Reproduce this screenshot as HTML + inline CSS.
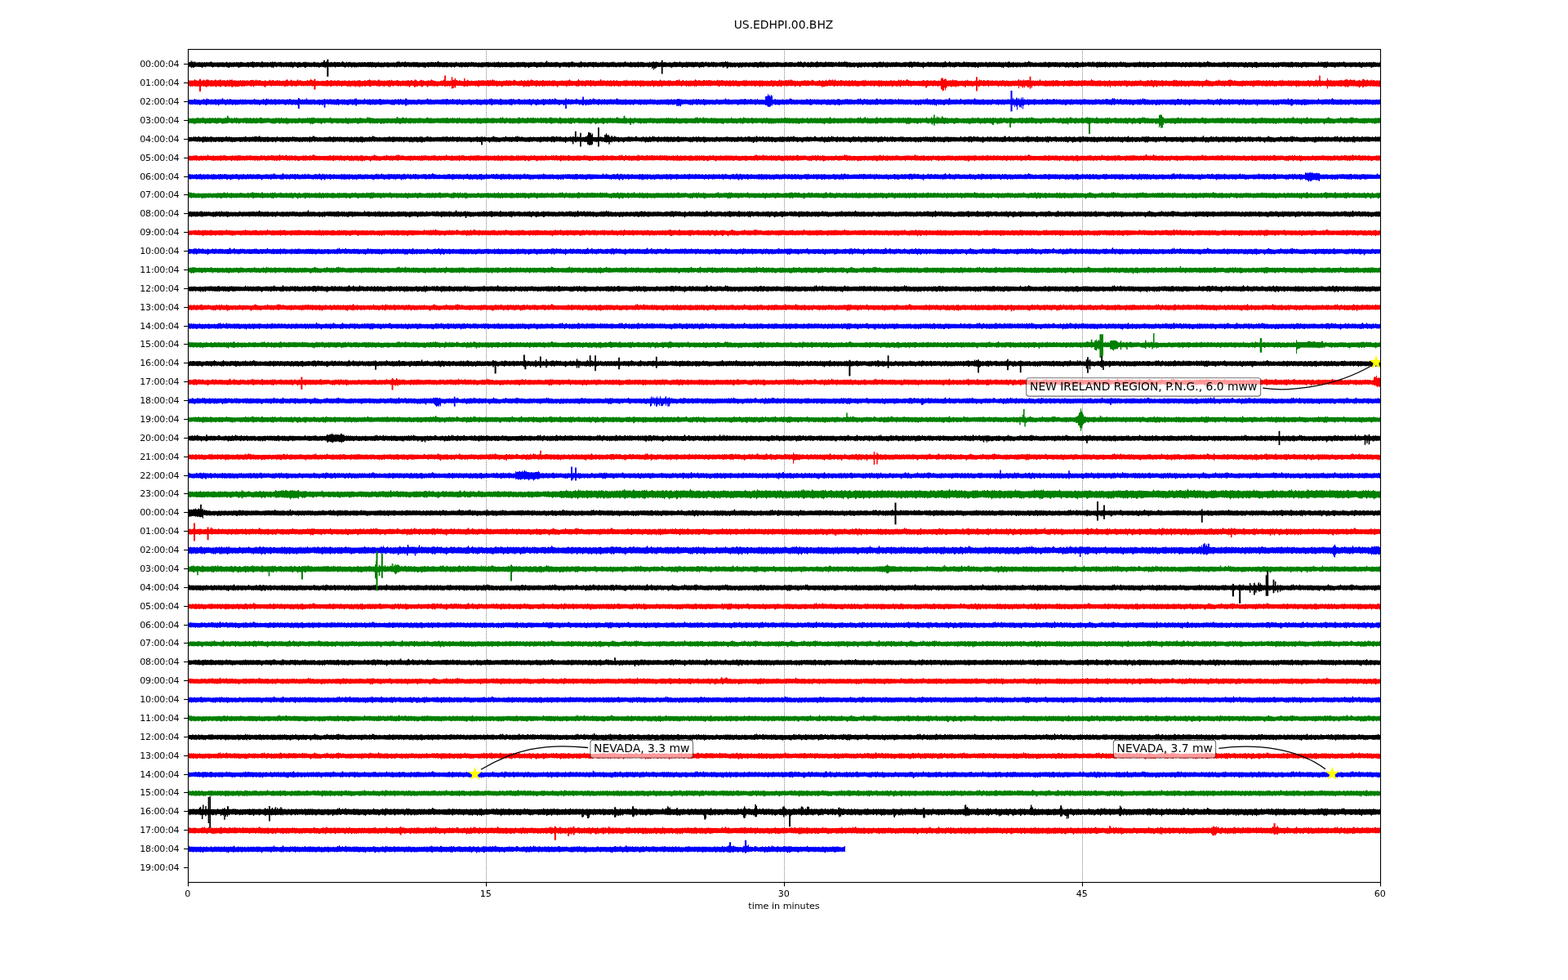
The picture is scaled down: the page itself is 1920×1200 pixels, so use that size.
<!DOCTYPE html>
<html><head><meta charset="utf-8"><title>US.EDHPI.00.BHZ</title>
<style>html,body{margin:0;padding:0;background:#fff;overflow:hidden}svg{display:block}</style>
</head><body>
<svg width="1920" height="1200" viewBox="0 0 1920 1200">
<defs><path id="s0" d="M0 -3.6h1v.7h1v.3h1h1v-.2h1v.3h1v-.3h1v-.5h1v.5h1v-.7h1v.6h1v.2h1v-.6h1v-.3h1v.7h1v.1h1v.3h1v-.4h1v-.3h1v-.1h1v.4h1v-.7h1v.7h1v-.1h1v-.1h1v.5h1v-.3h1v-.3h1v-.4h1v.7h1v-.2h1v.5h1v.1h1v-.2h1v-.2h1v.1h1v.2h1v-.5h1v.4h1v-.5h1v.5h1v-.3h1h1v.2h1v.3h1v-.3h1v-.3h1v-.7h1v.8h1v.3h1v-.6h1v.4h1h1v.1h1v.3h1v-.2h1v.3h1v-.3h1v.3h1v-.2h1v-.1h1v.2h1v-.1h1v-.2h1v.2h1v-.2h1v.2h1v-.4h1v.1h1v-.1h1v-.8h1v.6h1v.4h1v.3v5.2h-1v.5h-1v-.3h-1v.1h-1v-.3h-1h-1v.5h-1v-.4h-1v.6h-1v-.6h-1v-.1h-1v-.3h-1v.1h-1h-1v.3h-1v.6h-1v-.6h-1v.4h-1v.4h-1v-.5h-1h-1v-.5h-1h-1v.2h-1h-1v-.3h-1v.2h-1v-.1h-1v-.1h-1v.3h-1v.5h-1h-1v-.2h-1v-.4h-1v.6h-1v-.4h-1v-.4h-1v.1h-1v.5h-1v.3h-1v-.6h-1v.2h-1v-.3h-1v.2h-1v.7h-1v-.7h-1h-1v-.1h-1v.3h-1v-.3h-1v.6h-1v-.6h-1v.2h-1v.1h-1v1h-1v-1h-1v-.4h-1h-1v.5h-1v-.5h-1h-1v.3h-1v-.4h-1v.1h-1v-.1h-1v-.2h-1v-.2h-1v.2h-1v.2h-1v.1h-1h-1v.2h-1v-.1h-1v.5z"/><path id="s1" d="M0 -2.8h1v.1h1v.3h1v-.3h1v-.3h1v.4h1v-.4h1v.3h1v-.4h1v.5h1v.3h1h1v-.2h1v-.1h1h1v-.3h1v.4h1h1v-.1h1v-.1h1h1v-.5h1v.5h1v.1h1v-.5h1v.2h1v.1h1v-.5h1v.4h1v-.4h1v.6h1v-.2h1h1h1v.1h1v.1h1v-.6h1v-.1h1h1v.6h1v.3h1v-.3h1v-.3h1v.3h1v-.2h1v-.2h1v.5h1v.2h1v-.3h1v.3h1v-.3h1v-.3h1v.2h1v-.4h1v.5h1v-.4h1v.5h1v-.3h1v.2h1h1v.1h1v-.1h1v-.1h1v.2h1v.1h1v-.1h1v.3h1v-.1h1v.1h1v-.6h1v-.8h1v.8h1v.5h1v-.1v5.1h-1h-1v-.1h-1v.4h-1v-.2h-1v-.1h-1h-1v.2h-1v-.2h-1v.3h-1v-.2h-1h-1h-1h-1v.3h-1v.2h-1v-.2h-1v.6h-1v-.6h-1v-.4h-1v.1h-1v.3h-1v.7h-1h-1v-.6h-1v-.2h-1v.4h-1v-.1h-1v-.4h-1v.7h-1v-.7h-1v-.2h-1v.1h-1v.3h-1v.8h-1v-.8h-1v.1h-1v.3h-1v-.5h-1v.6h-1v-.5h-1v-.3h-1v.5h-1v-.5h-1v.1h-1v-.2h-1v.3h-1v-.2h-1v-.2h-1v-.2h-1v.6h-1v.7h-1v-.7h-1v.3h-1v.6h-1v-.8h-1h-1v.9h-1v-.9h-1v.3h-1v-.5h-1v-.1h-1v.1h-1v.6h-1v-.6h-1v-.2h-1v.3h-1v.3h-1v-.3h-1h-1v.2h-1v-.4h-1v.6h-1v.9z"/><path id="s2" d="M0 -3.4h1v.6h1v-.2h1v.3h1v.1h1v-.5h1h1v.5h1v-.1h1v-.6h1v.3h1v.5h1v-.4h1v-.5h1v.6h1v.2h1v-.4h1v-.2h1v.6h1v.2h1v-.3h1v.3h1v-.2h1v.2h1v-.2h1v-.5h1h1v-.1h1v.3h1v-.8h1v.8h1h1v.4h1v-.5h1v.5h1v-.2h1v-.6h1v.6h1v-.3h1v.2h1v-.3h1v.4h1v-.6h1v.6h1v.1h1v-.5h1v.1h1h1v.2h1v-.5h1v.6h1v-.2h1v.4h1v-.4h1v.4h1v-.5h1v.5h1v-.1h1v.1h1v-.3h1v-.5h1v.1h1v.6h1v-.4h1v.1h1v-.1h1v.3h1h1v.1h1v-.4h1v-.9h1v.9h1v-.1h1v.3v6.6h-1v-.8h-1v-.2h-1v.5h-1v-.2h-1v.4h-1v-.7h-1v-.2h-1v.4h-1h-1v.8h-1v-.8h-1v-.4h-1v.1h-1v.5h-1v-.5h-1v.6h-1v-.5h-1v.5h-1v-.5h-1v-.2h-1v.4h-1v-.1h-1v.7h-1v-.7h-1v.2h-1v.8h-1v-.8h-1v-.3h-1v-.2h-1h-1v.2h-1v.7h-1v-.7h-1v-.4h-1v.3h-1v.4h-1v-.4h-1v-.1h-1h-1v.3h-1v-.3h-1v.4h-1v-.1h-1v.4h-1v-.3h-1v-.1h-1v-.2h-1v-.2h-1v-.1h-1v.5h-1v.6h-1v-.6h-1v.7h-1v-.7h-1v.1h-1v-.4h-1v.2h-1v.5h-1v-.5h-1h-1h-1v.6h-1v-.5h-1v.4h-1v-.6h-1v.2h-1v-.2h-1v.5h-1v-.5h-1v-.3h-1v.2h-1v.4h-1v-.2z"/><path id="s3" d="M0 -3.2h1v.2h1v.4h1v-.3h1v-.6h1v.3h1v-1h1v1h1v-.1h1v.6h1v-.5h1v.1h1v.1h1v-.2h1v.3h1v.3h1v-.4h1v-.9h1v.2h1v.8h1h1v.1h1h1v.1h1v-.4h1v.3h1v.3h1v-.3h1v-.5h1v.4h1v-.7h1v.3h1v.4h1v-.8h1v.6h1v.5h1h1v-.2h1v-.1h1v-.2h1v-.4h1v.3h1v.5h1h1v.2h1v-.2h1h1v-.6h1v.6h1v-.1h1v.2h1v-.5h1v.2h1v-.7h1v.6h1v.4h1v-.2h1v-.6h1v.2h1v.5h1v.1h1v-.2h1h1v-.7h1v.7h1v.4h1v.1h1v-.3h1v-.5h1v.2h1v-.7h1v.7h1v-.3h1v.2v5.8h-1v.8h-1v.3h-1v-.9h-1v-.3h-1v.1h-1v-.2h-1v.6h-1h-1v-.2h-1v.3h-1v.8h-1v-1h-1v-.5h-1v-.3h-1v.2h-1v.5h-1v1h-1v-1h-1v.1h-1v-.1h-1v-.3h-1v.4h-1v-.5h-1v.1h-1v.4h-1v-.5h-1v.1h-1v.5h-1v-.5h-1h-1v.6h-1v-.6h-1v-.1h-1v-.2h-1h-1v.2h-1v.6h-1v-.5h-1v-.3h-1v.7h-1v.9h-1v-.9h-1v.4h-1v-.6h-1v-.2h-1v-.1h-1v.3h-1v.4h-1v-.6h-1v.3h-1v-.4h-1v.5h-1v-.2h-1v.8h-1v-.7h-1h-1v.1h-1v-.4h-1v-.3h-1v.4h-1v-.2h-1v.5h-1v-.5h-1v.5h-1v.6h-1v-.2h-1v-.7h-1h-1v-.3h-1v.2h-1v.6h-1v-.1h-1v-.5z"/><path id="s4" d="M0 -2.6h1v-.5h1v-.2h1v.6h1v.1h1h1v-.3h1v-.3h1v.3h1v-.3h1v.4h1v.3h1h1v-.2h1v.3h1v-.3h1v-.2h1v-.7h1v.2h1v.3h1v-1h1v1h1v.6h1v-.1h1v-.5h1v-.5h1v.7h1v.4h1v-.2h1v-.6h1v.6h1v.2h1v-.4h1h1v.1h1v-.3h1v.5h1h1v-.4h1v-.1h1v-1h1v.6h1v.7h1v-.1h1v-.3h1v-.2h1v.5h1v.1h1v.1h1v-.1h1v-.6h1v-.2h1v.6h1v.2h1v-.6h1v.6h1v-.7h1v.3h1v-.2h1v.5h1v-.3h1v.5h1h1v-.6h1v.6h1h1v-.3h1v-.8h1v.8h1h1v-.3h1v.5h1v-.6h1v.6v5.4h-1v-.1h-1v.3h-1v-.2h-1v.1h-1v.2h-1v-.3h-1v-.2h-1v.3h-1v-.3h-1h-1v.2h-1h-1v.4h-1v-.2h-1v.1h-1v-.2h-1v.1h-1v-.2h-1v.1h-1v-.1h-1h-1v.5h-1v-.3h-1v.1h-1v.1h-1v-.4h-1v.1h-1v-.2h-1h-1v.3h-1v.6h-1v-.5h-1v.7h-1v-.7h-1v-.3h-1v.4h-1v-.3h-1v.5h-1v-.3h-1v.6h-1v-.6h-1v-.1h-1v.6h-1v-.6h-1v-.2h-1v-.2h-1v.1h-1v.3h-1v.7h-1v-.6h-1v-.4h-1v.3h-1v-.3h-1v.4h-1v-.1h-1v-.1h-1v-.3h-1v.1h-1v.4h-1v-.1h-1v-.2h-1h-1v.1h-1v.5h-1v-.5h-1v.1h-1h-1v-.3h-1v.2h-1v-.2h-1v.4h-1v-.1h-1v.5z"/><path id="s5" d="M0 -3h1v.4h1v-.5h1v.5h1h1h1v-.4h1v.2h1v-.6h1v.4h1v-.6h1v.7h1v.3h1v.3h1v-.2h1v-.4h1v-.1h1v.4h1v-.3h1v.1h1v.2h1v-.4h1v.4h1v-.5h1v-1h1v1h1v.4h1v-.2h1v.2h1v.2h1v-.4h1v-.4h1v.5h1v.2h1v-.2h1v.2h1v-.5h1v.5h1v-.4h1v.1h1v-.7h1v.8h1v.1h1v-.6h1v.1h1v-.1h1v.3h1v.4h1h1v.1h1v.1h1v-.3h1v.1h1v-.1h1v-.7h1v.7h1h1h1v-.6h1v.6h1v-.3h1v-.2h1v-.1h1v.1h1h1v.5h1h1h1v-.1h1v.3h1v-.1h1v-.4h1v-.1h1v.4v5.5h-1v.2h-1v-.3h-1v.6h-1v-.6h-1h-1v.2h-1h-1v-.2h-1v.4h-1v-.3h-1v.3h-1v.1h-1v-.2h-1v-.1h-1v.2h-1v-.5h-1v.2h-1v.1h-1v.7h-1v-.7h-1v-.3h-1v-.1h-1v.1h-1v.3h-1v-.1h-1v.6h-1v-.6h-1v-.2h-1v.4h-1v-.3h-1v.2h-1v.7h-1v-.7h-1v-.1h-1v.3h-1v-.1h-1h-1v-.3h-1v.5h-1v-.2h-1v.4h-1v-.5h-1v.2h-1v-.4h-1v-.2h-1h-1v-.1h-1v.1h-1v.2h-1v.4h-1v-.5h-1v-.1h-1v.1h-1v.4h-1v.1h-1v-.5h-1v.1h-1v.4h-1h-1v-.1h-1v-.3h-1v.4h-1v-.4h-1v.2h-1v-.1h-1v-.2h-1v.5h-1v-.1h-1h-1v.2h-1v-.4h-1v-.1h-1v.3z"/><path id="s6" d="M0 -2.7h1v.2h1v.1h1v-.2h1v.2h1h1v-.3h1v-.1h1v-.5h1v-.8h1v.9h1v.2h1v.1h1v.3h1v.2h1v.1h1v.1h1h1v-.1h1h1v-.3h1v-.4h1v.4h1v-.5h1v-.8h1v.9h1v.1h1v.2h1v.1h1v-.5h1v.4h1v.1h1v-.5h1v.5h1h1v-.4h1v-.7h1v.3h1v-.8h1v1h1v-.3h1v.7h1v.1h1v-.5h1v.1h1v.4h1v.1h1v.2h1h1v-.1h1h1v-.2h1h1v-.2h1v-.2h1v.5h1h1v-.1h1v-.4h1v.4h1v.1h1v.1h1v-.4h1v.3h1v-.4h1v.4h1v-.2h1v-.5h1v.6h1v-.3h1v-.1h1v-.1h1v.2h1v.4v5.3h-1v-.2h-1v.4h-1v-.3h-1v.5h-1v-.1h-1v.8h-1v-.8h-1v-.4h-1v.5h-1v-.3h-1v-.2h-1v-.2h-1v.3h-1v-.3h-1v.3h-1v.4h-1v-.5h-1v.3h-1v.5h-1v-.4h-1h-1v-.2h-1v.2h-1h-1v-.2h-1h-1v-.3h-1h-1h-1v.1h-1v.1h-1v-.3h-1v.3h-1v.6h-1v-.1h-1v-.5h-1v.1h-1v-.3h-1v.1h-1v.2h-1v.6h-1v-.6h-1v.1h-1v.2h-1v-.4h-1v-.2h-1v-.1h-1v.2h-1h-1v.4h-1v-.4h-1v-.1h-1v.1h-1v-.1h-1v.5h-1v.5h-1v-.4h-1h-1v-.3h-1v.7h-1v-.7h-1v.3h-1v-.3h-1h-1v.1h-1v-.2h-1v.4h-1v1h-1v-1h-1v-.5h-1v-.2h-1h-1v.2z"/><path id="s7" d="M0 -3.2h1v.4h1v-.6h1v.6h1v.2h1v-.4h1v.4h1v.1h1v-.4h1v.2h1v-.6h1v.6h1v.1h1v-.5h1v.2h1v-.8h1v.8h1v.3h1v-.1h1v-.6h1v.6h1v.1h1v-.4h1v.2h1v-.3h1v.1h1v.3h1v.2h1v-.1h1v-.5h1v.4h1v-.6h1v.3h1v.1h1v.3h1v.2h1v-.2h1v-.6h1v.4h1v-.5h1v.2h1v.5h1v-.6h1v.6h1v-.5h1v-.3h1v.6h1v-.4h1v.5h1h1v.1h1v.1h1v-.4h1v.3h1v-.4h1v-.2h1v.5h1h1v-.4h1v-.4h1v.7h1v-.1h1v.4h1v-.5h1v.4h1v-.2h1h1v-.1h1v-.4h1v.6h1h1v.2h1v-.5h1v.4v5.4h-1v.3h-1v-.1h-1v-.3h-1v.4h-1v-.3h-1v.5h-1v-.5h-1h-1v.4h-1v.8h-1v-.9h-1v-.3h-1h-1v-.3h-1h-1v.3h-1h-1v.2h-1v.1h-1v.9h-1v-.7h-1v-.6h-1v.1h-1v.7h-1v-.1h-1v-.6h-1v-.1h-1v.2h-1v-.2h-1v.5h-1v-.4h-1v.5h-1v-.4h-1v.6h-1v-.6h-1v-.2h-1v.4h-1v-.1h-1v.2h-1v-.1h-1v.1h-1v.3h-1v-.6h-1v.1h-1v-.2h-1h-1h-1v.6h-1v-.6h-1v.1h-1v-.1h-1v.6h-1v-.3h-1v-.2h-1v.7h-1v-.6h-1v.1h-1h-1v-.2h-1h-1v.2h-1v.2h-1v-.6h-1v.2h-1v-.3h-1v.3h-1v-.3h-1v.2h-1v.4h-1v.1h-1v-.6h-1v-.1h-1v.4z"/><path id="s8" d="M0 -3h1v.2h1v-.4h1v-.2h1v.5h1v-.1h1v.4h1v-.3h1v.2h1v-.1h1v.1h1v-.1h1v.3h1v-.1h1v.2h1v-.3h1v-.6h1v.1h1v.5h1v-.1h1v-.5h1v.5h1v.2h1v.1h1v-.2h1v-.6h1v.3h1v.2h1v-.3h1v-.5h1v.3h1h1v.6h1v-.2h1v-.1h1v.3h1v-.6h1v.6h1v-.6h1v-1.1h1v1.1h1v.6h1v-.5h1v-.1h1v.5h1h1v-.6h1v-.3h1v.7h1v.3h1v-.1h1v-.6h1v.6h1v-.3h1v-.2h1v.5h1v.2h1v-.3h1v-.3h1v.5h1h1v.2h1v.1h1v-.2h1v.2h1v-.3h1v.1h1v-.2h1v-.5h1v.5h1v-.3h1v-.3h1v.6h1v-.5v6.3h-1h-1v.3h-1v-.4h-1v.3h-1v-.2h-1v-.5h-1h-1v.5h-1v.2h-1v.5h-1v-.4h-1v-.6h-1v.1h-1v.7h-1v-.7h-1v-.3h-1v.5h-1v-.2h-1v-.2h-1h-1v.5h-1v-.3h-1v.2h-1v.2h-1v-.6h-1v-.2h-1v.2h-1v.2h-1v-.4h-1v-.1h-1v.2h-1v.3h-1v.7h-1v-.7h-1h-1v.5h-1v.2h-1v-.7h-1v.3h-1h-1v-.5h-1v.4h-1v-.2h-1v-.4h-1v.1h-1v.4h-1v-.3h-1v.3h-1h-1v.3h-1v-.3h-1v-.4h-1v-.2h-1v.3h-1h-1v.4h-1v-.2h-1v.4h-1v-.4h-1v.6h-1v-.7h-1v-.1h-1v.6h-1v-.2h-1v-.4h-1v.3h-1v-.4h-1v.2h-1v.3h-1v-.5h-1v-.1h-1v.2h-1v.5z"/><path id="s9" d="M0 -2.7h1v-.1h1h1v.3h1v-.2h1h1v.2h1v-.4h1v-.8h1v.8h1h1v.3h1h1v-.2h1v.3h1v.2h1v-.2h1v-.3h1h1v-.7h1v.6h1v.3h1v-.5h1v-.9h1v.9h1v-.3h1v.6h1v.1h1v-.3h1v-.1h1v.3h1v.2h1v-.4h1v-.4h1v.2h1v.4h1h1v-.3h1v.2h1v-.3h1v.5h1v.1h1v-.5h1v.3h1v-.3h1v.3h1v.3h1v-.2h1v-.6h1v.6h1v-.1h1v-.7h1v.4h1v.1h1v.4h1h1v-.4h1v.2h1h1v.2h1v.2h1v-.3h1v.1h1h1v-.5h1v.5h1h1v-.5h1v.5h1v-.2h1v-.4h1v.4h1v.3h1v5.1h-1v.2h-1v-.2h-1v.3h-1v-.1h-1v-.2h-1v.5h-1v-.3h-1v-.3h-1v.2h-1v.5h-1v-.4h-1v.6h-1v-.6h-1v.7h-1v-.7h-1v-.1h-1v.3h-1v.6h-1v-.7h-1v-.3h-1v.1h-1v.6h-1v-.6h-1v-.1h-1v.4h-1v.5h-1v-.5h-1v-.4h-1v-.1h-1v-.1h-1v.3h-1v-.2h-1v.4h-1v-.1h-1h-1v-.3h-1v.4h-1v.7h-1v-.7h-1v-.3h-1h-1v.4h-1v-.3h-1v.5h-1v-.4h-1v-.3h-1v.1h-1v.2h-1v.2h-1v.9h-1v-.9h-1v-.3h-1v.4h-1v-.5h-1v-.1h-1v.4h-1v.4h-1v.2h-1v-.7h-1h-1v.3h-1v-.4h-1v.3h-1v-.2h-1v-.3h-1v.1h-1v.4h-1v-.3h-1v.5h-1v-.5h-1v-.2h-1h-1v.3z"/><path id="s10" d="M0 -3.3h1v-.7h1v.9h1v.1h1v.1h1v-.4h1v.6h1v.2h1v.1h1v-.3h1v.2h1v-.4h1v.3h1v-.4h1h1v.4h1v-.2h1v.1h1h1v-.6h1v.4h1v-.4h1v.4h1v-.2h1v-.2h1v-.2h1v.4h1v.5h1h1v-.5h1v.3h1v-.1h1v-.7h1v.7h1v-.1h1v.2h1v.2h1v-.5h1v.1h1v.2h1v-.7h1v.7h1v.3h1v-.3h1h1v.3h1v-.4h1v.4h1h1h1v-.3h1v.1h1v-.5h1v.5h1v.1h1v.2h1v-.1h1v-.4h1v.4h1v-.2h1v.1h1v-.5h1v-.3h1v.6h1v.2h1v-.4h1v.2h1v.1h1v.2h1v-.3h1v.1h1v-.6h1v.6h1v5.9h-1v-.5h-1v.1h-1v-.1h-1v.1h-1v.7h-1v-.1h-1h-1v-.6h-1v.4h-1v.2h-1v-.6h-1v-.2h-1v-.1h-1v.4h-1v.3h-1v-.5h-1v.6h-1v.2h-1v-.7h-1v.1h-1v-.4h-1v.1h-1v.5h-1v-.4h-1v.5h-1v-.5h-1v.1h-1v-.1h-1v.5h-1v-.4h-1v-.2h-1v-.1h-1v.3h-1v.3h-1v.2h-1v-.6h-1v-.3h-1v.3h-1v.2h-1v-.4h-1v.4h-1v-.4h-1h-1v.3h-1v.1h-1h-1v-.2h-1v.6h-1v-.6h-1h-1v-.1h-1v.3h-1v-.3h-1v.2h-1v.1h-1v-.4h-1v.4h-1v-.4h-1h-1v.1h-1v-.1h-1v.2h-1v.1h-1v.1h-1v-.2h-1v.2h-1h-1v.3h-1v-.5h-1v.1h-1v-.1h-1v-.2h-1v.1z"/><path id="s11" d="M0 -2.6h1v.1h1v-.3h1v-.6h1v.6h1v-.1h1v-.3h1v-1.1h1v.6h1v.4h1v.5h1v-.1h1v.3h1v.1h1h1v-.4h1v.3h1v.1h1h1h1h1v-.4h1v.3h1h1v.1h1v-.3h1h1v-.6h1v.1h1v.6h1v.1h1v-.4h1v-.5h1v.7h1v-.3h1v.4h1v-.3h1v-.1h1v.4h1v-.1h1v-.4h1v.2h1h1v.4h1h1h1v-.4h1v.4h1v-.3h1v-.3h1v.5h1h1v.2h1v-.4h1v-.3h1v.5h1v.3h1v-.2h1v-.5h1v.4h1v-.4h1v.1h1v.4h1v.2h1v-.4h1v-.5h1v.2h1v-.4h1v.7h1v.4h1v-.1h1v-.2h1h1v.1v5.3h-1v.1h-1v.6h-1v-.5h-1v.4h-1v.8h-1v-1h-1v.3h-1v-.5h-1v.1h-1v.9h-1v-.9h-1v.2h-1v-.5h-1v.3h-1v-.1h-1v.9h-1v-.9h-1v.5h-1v-.4h-1v.6h-1v-.7h-1v-.2h-1v-.2h-1v.2h-1h-1v.2h-1v.7h-1v-.7h-1v-.3h-1v.5h-1v-.5h-1v.2h-1v.4h-1v-.5h-1v-.2h-1h-1v.2h-1v.3h-1v-.2h-1v.7h-1v-.1h-1v-.6h-1v-.2h-1v.6h-1v-.5h-1v.5h-1v-.5h-1v.4h-1v-.3h-1v.2h-1v-.4h-1v.3h-1v-.3h-1v-.1h-1h-1v.3h-1v.1h-1v-.3h-1v.4h-1v-.4h-1v.1h-1h-1v.5h-1v-.5h-1v-.3h-1v.1h-1v.5h-1v-.4h-1v.5h-1v-.3h-1v-.3h-1v.5h-1v-.2z"/><path id="s12" d="M0 -2.8h1v-.3h1v-.1h1v.3h1v-.5h1v.6h1v-.3h1h1v.4h1v-.3h1v.4h1v.1h1v-.4h1v.2h1v-.7h1v.7h1v.3h1v-.3h1v.1h1v.2h1v-.1h1v-.4h1v.1h1v.3h1v-.4h1h1v-.1h1v.5h1v-.1h1v.1h1v-.1h1v.1h1v-.4h1v.3h1v.1h1v-.1h1v-.3h1v-.9h1v.6h1v-1.1h1v1.1h1v.5h1v-.3h1v-.4h1v.6h1h1v-.5h1v-.7h1v1h1h1v-.1h1v.1h1h1v.4h1h1v-.4h1v.2h1v-.7h1v.7h1v-.1h1v-.3h1v.3h1v-.2h1v.4h1v.2h1v-.4h1v.4h1v-.2h1v-.2h1v.3h1v-.4h1v.4h1v.2h1v-.2v5.7h-1v.9h-1v-.9h-1v.3h-1v-.6h-1v-.1h-1v.1h-1v-.1h-1v.6h-1v-.1h-1v.1h-1v-.5h-1v-.1h-1v.4h-1v-.4h-1v.5h-1v-.5h-1v-.1h-1v.4h-1v-.4h-1v.4h-1v-.4h-1v-.2h-1v.3h-1v.5h-1v-.5h-1v.3h-1v-.4h-1v-.2h-1h-1v.2h-1v.3h-1v.2h-1v-.5h-1v.1h-1v.3h-1v.3h-1v-.6h-1v.3h-1h-1v-.3h-1v.1h-1v-.3h-1v.1h-1v.4h-1v-.1h-1v.5h-1v-.1h-1v-.6h-1h-1v-.1h-1v.2h-1v.6h-1v-.5h-1v.5h-1v-.2h-1v-.2h-1v-.2h-1h-1v-.3h-1v.4h-1v.4h-1v.2h-1v-.7h-1v.2h-1v-.2h-1v.5h-1v-.3h-1v-.2h-1v.2h-1v.2h-1v-.5h-1v.4h-1z"/><path id="s13" d="M0 -3.3h1v.6h1v.1h1v-.5h1v.4h1v-.3h1v.3h1v-.5h1v.5h1v.1h1v-.1h1v-.5h1v.4h1v-.5h1v.4h1h1v.4h1h1h1v-.2h1v.2h1v-.3h1v-.1h1v-.2h1v.2h1v.2h1v-.2h1v.2h1v-.4h1v.3h1v-.2h1v-.2h1v-.9h1v1h1v.2h1v.2h1v.2h1v-.2h1v.3h1v-.1h1v-.2h1h1v-.5h1v-1.1h1v1.1h1v.6h1v-.3h1v.1h1h1h1v.3h1v-.2h1v-.5h1v.1h1v.1h1v-.3h1v.6h1v-.5h1v-.3h1v.7h1v-.1h1v-.4h1v.5h1v.3h1v-.2h1v.2h1v-.1h1v-.5h1v.5h1v-.3h1v-.7h1v.6h1v.4h1v-.3v5.6h-1h-1v.4h-1v-.5h-1v.5h-1v-.5h-1v.2h-1v.1h-1v.2h-1v.1h-1v-.3h-1h-1v-.4h-1v.4h-1v.8h-1v-.8h-1v-.2h-1v-.2h-1v-.2h-1v.2h-1v.4h-1v.5h-1v-.6h-1v-.2h-1v.5h-1v-.1h-1v-.5h-1v-.1h-1v.4h-1v.7h-1v-.7h-1v.7h-1v-.5h-1v-.2h-1v-.3h-1v-.3h-1v.3h-1v.5h-1v-.4h-1h-1v.4h-1v-.5h-1v.1h-1v.6h-1v.3h-1v-.7h-1v-.2h-1v.4h-1v-.4h-1v-.1h-1v.4h-1v-.4h-1v-.1h-1v.1h-1v.6h-1v1h-1v-1h-1v-.4h-1v-.2h-1v.2h-1v.6h-1v-.6h-1v.3h-1v-.4h-1v.3h-1v-.1h-1h-1v.2h-1v-.2h-1v-.3h-1v.2h-1v.5h-1v-.6h-1v-.1z"/><path id="s14" d="M0 -3.6h1v.7h1v-.5h1v.6h1v-.5h1v.1h1v-.5h1v.7h1v-.8h1v.8h1v.3h1h1v-.1h1v-.2h1v-.1h1v.4h1v-.3h1v.2h1v.1h1h1v-.5h1v.5h1v-.1h1v-.3h1v.4h1v-.1h1v-.1h1v-.2h1v-.8h1v.8h1v.4h1v.1h1v-.1h1h1h1v.1h1v-.4h1v.4h1v-.3h1v.3h1v-.2h1v.2h1v-.5h1v.5h1h1v.2h1v-.4h1v-.6h1v.6h1v.3h1v-.2h1v-.4h1v.4h1v.1h1h1h1v-.5h1v.5h1v-.1h1v-.5h1v.3h1h1h1v.2h1v-.6h1v.1h1v.2h1v.2h1v.3h1v-.1h1v.2h1h1v-.4h1v-.6v6h-1v.4h-1v-.4h-1v-.1h-1v.1h-1v.3h-1v-.2h-1v.1h-1v.2h-1h-1v.8h-1v-.5h-1v-.6h-1v-.2h-1v.2h-1h-1v-.1h-1v.5h-1v-.4h-1v.5h-1v-.6h-1v.4h-1v.9h-1v-.4h-1v-.5h-1v.1h-1v-.5h-1v.1h-1v.5h-1v-.4h-1v.3h-1v-.5h-1v.1h-1v-.1h-1v.5h-1v-.1h-1v.1h-1v-.5h-1v-.1h-1v.1h-1v-.1h-1v.3h-1v.8h-1v-.8h-1v-.1h-1v-.3h-1v.2h-1v-.2h-1v-.1h-1v.1h-1v.2h-1v.5h-1v-.5h-1v-.1h-1v.5h-1v.8h-1v-.6h-1v-.4h-1h-1v.1h-1v-.4h-1v.1h-1h-1v.1h-1v.2h-1v.8h-1v.1h-1v-.7h-1v1h-1v-.9h-1v-.5h-1v-.1h-1v.1h-1v-.1z"/><path id="s15" d="M0 -2.9h1h1v-.4h1v.5h1h1v.1h1v-.5h1v-.3h1v-.1h1v-.1h1v.4h1v.5h1v-.3h1v-.8h1v.8h1v-.1h1v.2h1v-.3h1v-.2h1v.7h1v.4h1v-.2h1v.1h1v-.2h1v-.6h1v.5h1v.3h1h1v-.2h1v-.3h1v-.7h1v.7h1v.2h1v-.4h1v-.3h1v.6h1v.4h1v-.4h1v.1h1v-.6h1v.6h1v-.2h1v-.1h1v.5h1v.1h1v-.2h1v-.1h1v.2h1v-.2h1h1v-.6h1v-1h1v1.1h1v.9h1v-.2h1v-.4h1v-.9h1v.6h1v.6h1v-.3h1v.4h1h1h1v-.2h1v-.7h1v.7h1h1v-.6h1v.6h1h1v.3h1v.1h1v-.2h1v-.4v5.6h-1v.6h-1v-.6h-1v.4h-1v-.3h-1v-.3h-1h-1v.2h-1v.3h-1h-1v.7h-1v-.7h-1v.2h-1v-.5h-1v.1h-1v.7h-1v-.7h-1v-.1h-1v-.2h-1v.2h-1v.6h-1v-.3h-1v.3h-1h-1v.2h-1v-.3h-1v-.5h-1v.4h-1v-.1h-1v-.3h-1v.5h-1v-.5h-1v.3h-1v-.4h-1v.3h-1v.1h-1v-.4h-1v.2h-1v-.1h-1v.2h-1v.4h-1v-.5h-1v.1h-1v-.4h-1v.2h-1v-.1h-1v.4h-1v.3h-1v1.1h-1v-1.1h-1v-.4h-1v.3h-1v-.5h-1v.2h-1v-.3h-1v.4h-1v-.2h-1v-.3h-1v.3h-1v-.2h-1h-1v.5h-1v.8h-1v-.9h-1h-1v.7h-1v-.7h-1v-.2h-1v-.3h-1v.2h-1v.5h-1v-.3h-1v.1h-1v.9z"/><path id="s16" d="M0 -2.9h1v-.8h1v.8h1v.1h1v.4h1h1h1v-.1h1v-.3h1h1v-.6h1v.3h1v.4h1v-.1h1v-.6h1v-.4h1v.8h1v.4h1v-.6h1v-.4h1v.7h1v-.3h1v.5h1v-.4h1v.3h1v.2h1h1v-.6h1h1v.4h1v.3h1v-.3h1v-.2h1v-.1h1v.5h1v.1h1v-.3h1v.3h1v-.1h1v-.1h1v.1h1v-.4h1v-.5h1v.6h1v.1h1v-.7h1v.7h1h1v.2h1v-.5h1v.4h1v-.5h1v.2h1v.4h1v-.3h1h1v.4h1h1v-.2h1v-.1h1v.3h1v-.3h1v.1h1v-.6h1v.6h1v-.7h1v.7h1v.2h1v-.5h1v.5h1v-.3h1h1v-.1h1v-.1v5.7h-1h-1v.4h-1v-.1h-1v-.2h-1v.5h-1v-.5h-1v.1h-1v-.2h-1v.1h-1v.1h-1v.1h-1v.8h-1v-.8h-1v-.1h-1v.4h-1v-.1h-1v.1h-1v-.6h-1h-1v.4h-1v.5h-1v-.7h-1v.1h-1v-.1h-1v.7h-1v-.7h-1v.6h-1v-.5h-1v-.2h-1v.6h-1v-.4h-1v-.1h-1v-.1h-1h-1v-.1h-1v.5h-1v-.5h-1v-.1h-1h-1v.4h-1v-.4h-1h-1v.4h-1v.6h-1v-.7h-1v-.2h-1v.4h-1v-.4h-1v-.3h-1v.7h-1v.9h-1v-.9h-1v-.2h-1v.3h-1v1.1h-1v-1.1h-1h-1v-.5h-1v.4h-1h-1v-.3h-1v.3h-1v-.4h-1v.2h-1v.7h-1v-.7h-1v.3h-1v-.5h-1v-.1h-1v-.1h-1v.3h-1v-.3h-1v.3z"/><path id="s17" d="M0 -2.8h1h1v.3h1v-.1h1v.1h1v-.3h1v-.2h1v.4h1v.1h1v-.2h1v-.1h1v-.7h1v-.1h1v.7h1v-.2h1v.1h1v.3h1v-.4h1v-.8h1v.9h1v-.1h1v.5h1h1v-.4h1v.3h1v-.2h1v-.7h1v.7h1v-.4h1v.5h1v-.7h1v.7h1v-.1h1v-.5h1v.6h1h1v-.2h1v-.3h1v.5h1v-.4h1v.1h1v.5h1h1v-.3h1v-.2h1h1v-.5h1v.6h1v.4h1v-.3h1v-.8h1v.8h1v.2h1v-.4h1v.3h1v.3h1v-.3h1v-.6h1v.5h1v-.6h1v.4h1v.1h1v.4h1v-.3h1v.2h1v.2h1v-.1h1v-.4h1v.2h1v-.4h1v-.1h1v.4h1v-.6h1v.7v5.9h-1v.1h-1v-.5h-1v-.3h-1v.3h-1v.1h-1v-.4h-1h-1v.2h-1v.3h-1v.5h-1v-.7h-1v-.1h-1v.5h-1v-.3h-1v-.4h-1v.4h-1v-.2h-1v.5h-1v-.1h-1v-.4h-1v-.2h-1v-.2h-1v.2h-1v.3h-1v.6h-1v-.5h-1v.4h-1v-.1h-1h-1v.9h-1v-.9h-1v-.6h-1v-.1h-1v.4h-1v-.1h-1v.2h-1v.7h-1v-.7h-1v.1h-1v-.1h-1v-.3h-1v.1h-1v-.2h-1v.5h-1v.5h-1v-.3h-1v-.2h-1v-.2h-1v.1h-1v.1h-1v.8h-1v-.8h-1v-.5h-1v.4h-1v-.4h-1h-1v.4h-1v.1h-1v-.2h-1v.4h-1v-.5h-1v.2h-1v.2h-1v1h-1v-.9h-1v.2h-1v-.7h-1v.2h-1v-.2h-1h-1v.5h-1v-.4h-1v-.1z"/><path id="s18" d="M0 -3.2h1v.5h1v-.4h1v.4h1v-.6h1v-.2h1v.5h1h1v-.7h1v.7h1v-.2h1v-1h1v.9h1v.1h1v.5h1v-.1h1h1v.3h1h1v-.3h1v.3h1v.1h1v-.1h1h1v-.3h1v.1h1v-.2h1v.1h1v-.7h1v.7h1h1v-.2h1v-.1h1v.3h1v.1h1v.3h1v-.6h1v-.8h1v.2h1v.7h1v.4h1v.2h1v-.1h1v-.1h1v-.2h1v-.1h1v-.6h1v.6h1v.3h1v-.3h1v-.4h1v.5h1v.2h1v-.4h1v-.8h1v.8h1v.3h1v-.6h1v-1h1v1h1v-.3h1v.7h1v.2h1v-.4h1v.1h1v-.7h1v.7h1v.2h1v.1h1v-.5h1v.5h1v-.3h1v-.5h1v.6v5.8h-1v-.4h-1h-1v.1h-1v.6h-1v-.6h-1v-.2h-1v.5h-1v.6h-1v-.8h-1v-.1h-1v-.3h-1v.3h-1v.2h-1v-.2h-1v-.2h-1v.3h-1v.5h-1v-.4h-1v.4h-1h-1v-.2h-1v-.1h-1v1h-1v-1h-1v-.5h-1v.1h-1h-1v.5h-1v-.5h-1h-1v-.1h-1v-.1h-1v-.2h-1v.2h-1v.3h-1v-.3h-1v-.2h-1v.2h-1v.3h-1h-1v-.1h-1v.4h-1v-.4h-1v-.1h-1v.4h-1v-.4h-1v-.1h-1v.3h-1v.3h-1v.8h-1v-.8h-1v-.5h-1v.2h-1v-.1h-1v.4h-1v.7h-1v-.8h-1v-.3h-1v.1h-1h-1v.4h-1v-.5h-1h-1v.1h-1h-1v.6h-1v-.6h-1v.2h-1v.2h-1v-.5h-1v-.1h-1v.3h-1v-.3z"/><path id="s19" d="M0 -2.9h1v.1h1v-.6h1v.6h1v.2h1v-.2h1v-.6h1v.6h1v-.3h1v.1h1v.4h1v-.4h1v.3h1v-.5h1v.1h1v-.1h1v.2h1v.4h1v.2h1v-.3h1v-.1h1v.1h1h1v-.1h1v-.7h1v.7h1v.2h1v-.2h1v-.2h1v-.1h1v-.6h1v.8h1h1v-.2h1v.1h1v.4h1v-.2h1v-.6h1v.4h1v-.1h1v.5h1v-.5h1v-.1h1v.5h1v.1h1v-.5h1v.2h1v.4h1h1v-.3h1v-.4h1v.5h1v.2h1v-.3h1v-.4h1v.6h1v-.4h1v.4h1v-.1h1v-.7h1v.5h1h1v.2h1v-.1h1v-.2h1v.3h1v-.6h1v.6h1v.2h1v-.3h1v-.6h1v.6h1h1v-.2v5.9h-1v.7h-1v-.7h-1v-.3h-1v.1h-1v.2h-1v-.1h-1v-.3h-1h-1v.2h-1v-.1h-1v.5h-1v-.3h-1h-1v.5h-1v-.5h-1v-.3h-1v.2h-1v.2h-1v.7h-1v-.7h-1v-.4h-1v.3h-1h-1v.5h-1v-.5h-1v-.1h-1v.1h-1v-.3h-1v.1h-1v-.1h-1v.4h-1v-.2h-1v-.2h-1v.1h-1v.3h-1v-.1h-1v-.1h-1v.1h-1v-.1h-1h-1v-.1h-1v.4h-1v.1h-1v-.1h-1v-.3h-1v-.2h-1v.4h-1v-.2h-1v.5h-1v-.5h-1v.1h-1v.1h-1h-1v-.4h-1v.1h-1v.2h-1v.1h-1v.7h-1v-.7h-1v-.2h-1v.2h-1v-.2h-1v.1h-1v.2h-1v.9h-1v-.9h-1v-.3h-1v.4h-1v.1h-1v-.1h-1v-.1h-1v-.4h-1z"/><path id="s20" d="M0 -2.8h1v-.3h1v.3h1v-.6h1v.5h1v.1h1h1v-.4h1v.1h1v.5h1v-.2h1v-.5h1v.6h1v.1h1v-.4h1v-.4h1v-.3h1v.4h1v.6h1v.1h1v-.5h1v.4h1v-.1h1v-.2h1v.3h1v-.5h1v.5h1h1v.3h1h1v-.2h1v-.3h1v.4h1v-.4h1v-.1h1v-.3h1v.6h1v-.1h1v-.7h1v.6h1h1v-.8h1v.8h1v.3h1v-.4h1v.4h1v-.2h1v-.7h1v.7h1v-.3h1v.5h1v.2h1v-.2h1h1v.2h1v-.3h1v.3h1v-.3h1v.1h1v.1h1v.2h1v-.2h1v-.3h1v-.6h1v.5h1v.3h1v.1h1v-.3h1v.1h1v-.1h1v.3h1v-.5h1v.4h1v.2v4.9h-1h-1v.4h-1v-.3h-1v.1h-1v.5h-1v-.1h-1v-.5h-1v-.2h-1v.1h-1v.3h-1v.2h-1h-1v-.3h-1v.5h-1v-.5h-1v-.2h-1v.3h-1v.4h-1v-.5h-1v-.1h-1v.2h-1v.6h-1v-.3h-1v1h-1v-1h-1v-.2h-1v-.2h-1v.4h-1v-.1h-1v-.2h-1v-.3h-1v.4h-1v.7h-1v-.7h-1v-.5h-1v.3h-1v-.2h-1v.4h-1v.8h-1v-.8h-1v.7h-1v-.6h-1v.1h-1v-.4h-1v-.2h-1v-.2h-1h-1v.1h-1v.2h-1v-.1h-1v.3h-1v-.2h-1v.3h-1v-.1h-1v.7h-1v-.5h-1h-1v-.4h-1v-.1h-1v.4h-1v.1h-1v.1h-1v.2h-1v-.6h-1v.1h-1v.3h-1v-.3h-1v.7h-1v-.5h-1v-.2h-1v.4h-1v-.5h-1v-.1z"/><path id="s21" d="M0 -2.6h1v-.2h1v-.2h1h1h1h1v-.4h1v.5h1v-.2h1v.4h1v-.2h1v-.2h1v.5h1v-.7h1v-1h1v.9h1v.4h1h1v.1h1v.3h1h1v-.2h1v-.2h1v.2h1v-.3h1v-.1h1v.5h1v.3h1v-.2h1h1v-.4h1v.4h1h1v-.1h1v.2h1v-.3h1v-.6h1v.6h1v.3h1v-.2h1v.2h1v-.2h1v-.4h1v.4h1v-.2h1v.3h1h1h1v-.5h1v.5h1h1v-.3h1v.1h1v.1h1v-.3h1v-.3h1v.5h1v-.3h1v.4h1h1v-.3h1v.4h1v.3h1v-.2h1v-.3h1v.3h1h1v-.2h1v-.3h1v.3h1v-.1h1v.1h1v-.2h1v.3v5.2h-1h-1v.4h-1v-.3h-1v-.1h-1v.4h-1v.1h-1v-.3h-1v.2h-1v.4h-1v-.6h-1v-.3h-1v.3h-1v-.1h-1v.5h-1v-.5h-1v-.3h-1v.3h-1v-.1h-1v.1h-1v-.3h-1v.4h-1v.6h-1v-.6h-1v.1h-1v.2h-1v-.2h-1v-.4h-1v.4h-1v.7h-1v-.7h-1v-.1h-1v.2h-1v-.5h-1v-.2h-1h-1h-1v.5h-1v.8h-1v-.8h-1v-.1h-1v.5h-1v.1h-1v-.4h-1v-.2h-1v-.1h-1v.5h-1h-1v.2h-1v-.6h-1v.3h-1v.1h-1v-.1h-1h-1v-.3h-1v.2h-1v.2h-1v-.1h-1v-.4h-1v.4h-1v-.5h-1h-1v.4h-1v.1h-1v-.5h-1v.3h-1v-.3h-1v.3h-1v-.3h-1v.3h-1v.6h-1v-.6h-1v-.3h-1v.2z"/><path id="s22" d="M0 -3.2h1v-1.1h1v1.1h1v-.5h1v.4h1v.6h1v-.3h1h1v.3h1v.2h1v.2h1v-.2h1v-.3h1v.3h1h1v-.1h1v.3h1v-.2h1v-.1h1v-.3h1v.4h1v-.1h1v-.3h1v.4h1v-.1h1v-.1h1v-.2h1h1v.4h1v.1h1v-.2h1v-.2h1v.2h1v.1h1v-.4h1v.4h1v-.5h1v-.1h1v.3h1v-.3h1v.4h1h1v-.1h1v-.6h1v-.3h1v.3h1v.5h1h1v-.8h1v.8h1v.3h1v-.3h1v.2h1v-.6h1v.6h1v-.2h1v.2h1v.2h1v-.4h1h1v.1h1v-.1h1v.3h1v-.4h1v-.3h1v.3h1h1v.4h1v-.2h1v.3h1v.1h1v-.1h1v-.2h1v.2v5.1h-1v.4h-1v-.2h-1v.3h-1v-.5h-1h-1v.1h-1h-1v.1h-1h-1v.1h-1v-.3h-1v.1h-1v.4h-1v-.4h-1v.4h-1v-.3h-1v-.2h-1v.3h-1v.6h-1v-.5h-1v.3h-1v-.6h-1v-.2h-1v.3h-1v.5h-1v-.2h-1v-.3h-1v.5h-1v-.6h-1v.2h-1v.8h-1v-.1h-1v-.5h-1v-.4h-1v.2h-1v.1h-1v.4h-1v-.6h-1v-.1h-1h-1h-1v.3h-1v.2h-1v-.5h-1v-.2h-1v.2h-1v.6h-1v-.6h-1h-1v.1h-1v.7h-1v-.3h-1v-.1h-1v.2h-1v.6h-1v-.8h-1v-.7h-1v.3h-1v.6h-1v-.3h-1v-.1h-1h-1v.4h-1v-.5h-1v.5h-1v-.6h-1v.1h-1v.6h-1v-.4h-1v-.4h-1v-.1h-1h-1v.4z"/><path id="s23" d="M0 -3.4h1v-.2h1v.3h1v.6h1v-.6h1v.5h1v-.4h1v.4h1h1v-.2h1v.3h1v-.4h1v.5h1v-.5h1v.3h1v-.4h1v.5h1v.2h1v-.1h1v-.3h1v.1h1v.2h1v-.6h1v.1h1v.5h1h1v.3h1v-.5h1v-.6h1v.6h1v.4h1v-.4h1v-.3h1v-.2h1v.6h1v-.2h1v.1h1v-.5h1v.2h1v.5h1v-.4h1v.1h1v.4h1v-.3h1v-.6h1v.5h1v.3h1v-.4h1v.4h1v-.4h1v.3h1h1v-.6h1v.6h1v-.2h1v-.3h1v-1h1v1h1v.9h1v-.3h1v-.1h1v-.5h1v.3h1v.4h1v-.4h1v.4h1v-.4h1v.3h1h1v-.4h1v.5h1h1v.1h1v.1v5.1h-1v-.1h-1v.6h-1v-.4h-1v-.3h-1v.4h-1v.2h-1v.1h-1v-.5h-1v-.3h-1v.3h-1v.7h-1v-.7h-1h-1v.5h-1v-.4h-1v.7h-1v-.3h-1v-.2h-1v-.2h-1v-.2h-1v-.2h-1v.7h-1v1h-1v-1h-1v.3h-1v-.6h-1v-.1h-1v.1h-1v-.1h-1v.1h-1v-.2h-1v.5h-1v-.5h-1v.2h-1v-.1h-1v-.2h-1v.5h-1v-.3h-1v-.2h-1v.4h-1v-.2h-1v.5h-1v-.2h-1v-.4h-1v-.1h-1h-1v-.1h-1v.3h-1v-.1h-1h-1v.4h-1v-.5h-1v.4h-1v.9h-1v-.8h-1v-.2h-1v.6h-1v-.5h-1h-1v-.2h-1v.3h-1v.1h-1v-.5h-1h-1v.2h-1v.5h-1v-.6h-1v-.1h-1v.2h-1v-.2h-1v.1h-1v.1h-1v.6z"/><clipPath id="ax"><rect x="230" y="60" width="1460" height="1020"/></clipPath></defs>
<rect width="1920" height="1200" fill="#fff"/>
<text x="959.5" y="35.2" font-family="DejaVu Sans, Liberation Sans, sans-serif" font-size="13.89" text-anchor="middle" fill="#000">US.EDHPI.00.BHZ</text>
<g clip-path="url(#ax)">
<line x1="595.5" y1="60" x2="595.5" y2="1080" stroke="#000" stroke-width="0.8" stroke-dasharray="0.9 1.3" opacity="0.75"/>
<line x1="960.5" y1="60" x2="960.5" y2="1080" stroke="#000" stroke-width="0.8" stroke-dasharray="0.9 1.3" opacity="0.75"/>
<line x1="1325.5" y1="60" x2="1325.5" y2="1080" stroke="#000" stroke-width="0.8" stroke-dasharray="0.9 1.3" opacity="0.75"/>
<use href="#s14" transform="translate(230 79.15)" fill="#000000"/><use href="#s3" transform="translate(303 79.15)" fill="#000000"/><use href="#s9" transform="translate(376 79.15)" fill="#000000"/><use href="#s12" transform="translate(449 79.15)" fill="#000000"/><use href="#s21" transform="translate(522 79.15)" fill="#000000"/><use href="#s7" transform="translate(595 79.15)" fill="#000000"/><use href="#s13" transform="translate(668 79.15)" fill="#000000"/><use href="#s5" transform="translate(741 79.15)" fill="#000000"/><use href="#s17" transform="translate(814 79.15)" fill="#000000"/><use href="#s22" transform="translate(887 79.15)" fill="#000000"/><use href="#s4" transform="translate(960 79.15)" fill="#000000"/><use href="#s22" transform="translate(1033 79.15)" fill="#000000"/><use href="#s15" transform="translate(1106 79.15)" fill="#000000"/><use href="#s23" transform="translate(1179 79.15)" fill="#000000"/><use href="#s11" transform="translate(1252 79.15)" fill="#000000"/><use href="#s0" transform="translate(1325 79.15)" fill="#000000"/><use href="#s19" transform="translate(1398 79.15)" fill="#000000"/><use href="#s11" transform="translate(1471 79.15)" fill="#000000"/><use href="#s1" transform="translate(1544 79.15)" fill="#000000"/><use href="#s14" transform="translate(1617 79.15)" fill="#000000"/><svg x="230" y="82.03" width="70" height="40"><use href="#s9" transform="translate(0 20) scale(1 1.3)" fill="#ff0000"/></svg><use href="#s15" transform="translate(300 102.03) scale(1 1.15)" fill="#ff0000"/><use href="#s11" transform="translate(373 102.03) scale(1 1.15)" fill="#ff0000"/><use href="#s3" transform="translate(446 102.03) scale(1 1.15)" fill="#ff0000"/><use href="#s6" transform="translate(519 102.03) scale(1 1.15)" fill="#ff0000"/><use href="#s18" transform="translate(592 102.03) scale(1 1.15)" fill="#ff0000"/><use href="#s13" transform="translate(665 102.03) scale(1 1.15)" fill="#ff0000"/><use href="#s2" transform="translate(738 102.03) scale(1 1.15)" fill="#ff0000"/><use href="#s4" transform="translate(811 102.03) scale(1 1.15)" fill="#ff0000"/><use href="#s2" transform="translate(884 102.03) scale(1 1.15)" fill="#ff0000"/><use href="#s18" transform="translate(957 102.03) scale(1 1.15)" fill="#ff0000"/><use href="#s2" transform="translate(1030 102.03) scale(1 1.15)" fill="#ff0000"/><use href="#s11" transform="translate(1103 102.03) scale(1 1.15)" fill="#ff0000"/><use href="#s9" transform="translate(1176 102.03) scale(1 1.15)" fill="#ff0000"/><use href="#s5" transform="translate(1249 102.03) scale(1 1.15)" fill="#ff0000"/><use href="#s21" transform="translate(1322 102.03) scale(1 1.15)" fill="#ff0000"/><use href="#s16" transform="translate(1395 102.03) scale(1 1.15)" fill="#ff0000"/><use href="#s6" transform="translate(1468 102.03) scale(1 1.15)" fill="#ff0000"/><use href="#s2" transform="translate(1541 102.03) scale(1 1.15)" fill="#ff0000"/><svg x="1614" y="82.03" width="26" height="40"><use href="#s7" transform="translate(0 20) scale(1 1.15)" fill="#ff0000"/></svg><svg x="1640" y="82.03" width="50" height="40"><use href="#s15" transform="translate(0 20) scale(1 1.3)" fill="#ff0000"/></svg><use href="#s9" transform="translate(230 124.90) scale(1 1.08)" fill="#0000ff"/><use href="#s9" transform="translate(303 124.90) scale(1 1.08)" fill="#0000ff"/><use href="#s1" transform="translate(376 124.90) scale(1 1.08)" fill="#0000ff"/><use href="#s20" transform="translate(449 124.90) scale(1 1.08)" fill="#0000ff"/><use href="#s10" transform="translate(522 124.90) scale(1 1.08)" fill="#0000ff"/><use href="#s3" transform="translate(595 124.90) scale(1 1.08)" fill="#0000ff"/><use href="#s18" transform="translate(668 124.90) scale(1 1.08)" fill="#0000ff"/><use href="#s21" transform="translate(741 124.90) scale(1 1.08)" fill="#0000ff"/><use href="#s20" transform="translate(814 124.90) scale(1 1.08)" fill="#0000ff"/><use href="#s10" transform="translate(887 124.90) scale(1 1.08)" fill="#0000ff"/><use href="#s11" transform="translate(960 124.90) scale(1 1.08)" fill="#0000ff"/><use href="#s4" transform="translate(1033 124.90) scale(1 1.08)" fill="#0000ff"/><use href="#s1" transform="translate(1106 124.90) scale(1 1.08)" fill="#0000ff"/><use href="#s21" transform="translate(1179 124.90) scale(1 1.08)" fill="#0000ff"/><use href="#s19" transform="translate(1252 124.90) scale(1 1.08)" fill="#0000ff"/><use href="#s8" transform="translate(1325 124.90) scale(1 1.08)" fill="#0000ff"/><use href="#s22" transform="translate(1398 124.90) scale(1 1.08)" fill="#0000ff"/><use href="#s9" transform="translate(1471 124.90) scale(1 1.08)" fill="#0000ff"/><use href="#s1" transform="translate(1544 124.90) scale(1 1.08)" fill="#0000ff"/><use href="#s21" transform="translate(1617 124.90) scale(1 1.08)" fill="#0000ff"/><use href="#s17" transform="translate(230 147.78) scale(1 1.08)" fill="#008000"/><use href="#s20" transform="translate(303 147.78) scale(1 1.08)" fill="#008000"/><use href="#s14" transform="translate(376 147.78) scale(1 1.08)" fill="#008000"/><use href="#s22" transform="translate(449 147.78) scale(1 1.08)" fill="#008000"/><use href="#s10" transform="translate(522 147.78) scale(1 1.08)" fill="#008000"/><use href="#s4" transform="translate(595 147.78) scale(1 1.08)" fill="#008000"/><use href="#s3" transform="translate(668 147.78) scale(1 1.08)" fill="#008000"/><use href="#s21" transform="translate(741 147.78) scale(1 1.08)" fill="#008000"/><use href="#s12" transform="translate(814 147.78) scale(1 1.08)" fill="#008000"/><use href="#s9" transform="translate(887 147.78) scale(1 1.08)" fill="#008000"/><use href="#s23" transform="translate(960 147.78) scale(1 1.08)" fill="#008000"/><use href="#s4" transform="translate(1033 147.78) scale(1 1.08)" fill="#008000"/><use href="#s14" transform="translate(1106 147.78) scale(1 1.08)" fill="#008000"/><use href="#s17" transform="translate(1179 147.78) scale(1 1.08)" fill="#008000"/><use href="#s18" transform="translate(1252 147.78) scale(1 1.08)" fill="#008000"/><use href="#s3" transform="translate(1325 147.78) scale(1 1.08)" fill="#008000"/><use href="#s22" transform="translate(1398 147.78) scale(1 1.08)" fill="#008000"/><use href="#s10" transform="translate(1471 147.78) scale(1 1.08)" fill="#008000"/><use href="#s23" transform="translate(1544 147.78) scale(1 1.08)" fill="#008000"/><use href="#s6" transform="translate(1617 147.78) scale(1 1.08)" fill="#008000"/><use href="#s0" transform="translate(230 170.66)" fill="#000000"/><use href="#s21" transform="translate(303 170.66)" fill="#000000"/><use href="#s11" transform="translate(376 170.66)" fill="#000000"/><use href="#s11" transform="translate(449 170.66)" fill="#000000"/><use href="#s10" transform="translate(522 170.66)" fill="#000000"/><use href="#s6" transform="translate(595 170.66)" fill="#000000"/><use href="#s15" transform="translate(668 170.66)" fill="#000000"/><use href="#s18" transform="translate(741 170.66)" fill="#000000"/><use href="#s20" transform="translate(814 170.66)" fill="#000000"/><use href="#s8" transform="translate(887 170.66)" fill="#000000"/><use href="#s18" transform="translate(960 170.66)" fill="#000000"/><use href="#s17" transform="translate(1033 170.66)" fill="#000000"/><use href="#s1" transform="translate(1106 170.66)" fill="#000000"/><use href="#s15" transform="translate(1179 170.66)" fill="#000000"/><use href="#s3" transform="translate(1252 170.66)" fill="#000000"/><use href="#s23" transform="translate(1325 170.66)" fill="#000000"/><use href="#s14" transform="translate(1398 170.66)" fill="#000000"/><use href="#s17" transform="translate(1471 170.66)" fill="#000000"/><use href="#s6" transform="translate(1544 170.66)" fill="#000000"/><use href="#s4" transform="translate(1617 170.66)" fill="#000000"/><use href="#s5" transform="translate(230 193.53)" fill="#ff0000"/><use href="#s8" transform="translate(303 193.53)" fill="#ff0000"/><use href="#s11" transform="translate(376 193.53)" fill="#ff0000"/><use href="#s6" transform="translate(449 193.53)" fill="#ff0000"/><use href="#s5" transform="translate(522 193.53)" fill="#ff0000"/><use href="#s7" transform="translate(595 193.53)" fill="#ff0000"/><use href="#s0" transform="translate(668 193.53)" fill="#ff0000"/><use href="#s4" transform="translate(741 193.53)" fill="#ff0000"/><use href="#s7" transform="translate(814 193.53)" fill="#ff0000"/><use href="#s12" transform="translate(887 193.53)" fill="#ff0000"/><use href="#s20" transform="translate(960 193.53)" fill="#ff0000"/><use href="#s22" transform="translate(1033 193.53)" fill="#ff0000"/><use href="#s21" transform="translate(1106 193.53)" fill="#ff0000"/><use href="#s19" transform="translate(1179 193.53)" fill="#ff0000"/><use href="#s11" transform="translate(1252 193.53)" fill="#ff0000"/><use href="#s5" transform="translate(1325 193.53)" fill="#ff0000"/><use href="#s21" transform="translate(1398 193.53)" fill="#ff0000"/><use href="#s10" transform="translate(1471 193.53)" fill="#ff0000"/><use href="#s20" transform="translate(1544 193.53)" fill="#ff0000"/><use href="#s8" transform="translate(1617 193.53)" fill="#ff0000"/><use href="#s7" transform="translate(230 216.41)" fill="#0000ff"/><use href="#s13" transform="translate(303 216.41)" fill="#0000ff"/><use href="#s16" transform="translate(376 216.41)" fill="#0000ff"/><use href="#s17" transform="translate(449 216.41)" fill="#0000ff"/><use href="#s11" transform="translate(522 216.41)" fill="#0000ff"/><use href="#s0" transform="translate(595 216.41)" fill="#0000ff"/><use href="#s1" transform="translate(668 216.41)" fill="#0000ff"/><use href="#s16" transform="translate(741 216.41)" fill="#0000ff"/><use href="#s19" transform="translate(814 216.41)" fill="#0000ff"/><use href="#s16" transform="translate(887 216.41)" fill="#0000ff"/><use href="#s2" transform="translate(960 216.41)" fill="#0000ff"/><use href="#s10" transform="translate(1033 216.41)" fill="#0000ff"/><use href="#s15" transform="translate(1106 216.41)" fill="#0000ff"/><use href="#s9" transform="translate(1179 216.41)" fill="#0000ff"/><use href="#s11" transform="translate(1252 216.41)" fill="#0000ff"/><use href="#s2" transform="translate(1325 216.41)" fill="#0000ff"/><use href="#s12" transform="translate(1398 216.41)" fill="#0000ff"/><use href="#s0" transform="translate(1471 216.41)" fill="#0000ff"/><svg x="1544" y="196.41" width="54" height="40"><use href="#s20" transform="translate(0 20)" fill="#0000ff"/></svg><svg x="1598" y="196.41" width="18" height="40"><use href="#s14" transform="translate(0 20) scale(1 1.5)" fill="#0000ff"/></svg><use href="#s1" transform="translate(1616 216.41)" fill="#0000ff"/><svg x="1689" y="196.41" width="1" height="40"><use href="#s21" transform="translate(0 20)" fill="#0000ff"/></svg><use href="#s22" transform="translate(230 239.29)" fill="#008000"/><use href="#s3" transform="translate(303 239.29)" fill="#008000"/><use href="#s7" transform="translate(376 239.29)" fill="#008000"/><use href="#s14" transform="translate(449 239.29)" fill="#008000"/><use href="#s20" transform="translate(522 239.29)" fill="#008000"/><use href="#s7" transform="translate(595 239.29)" fill="#008000"/><use href="#s4" transform="translate(668 239.29)" fill="#008000"/><use href="#s16" transform="translate(741 239.29)" fill="#008000"/><use href="#s20" transform="translate(814 239.29)" fill="#008000"/><use href="#s14" transform="translate(887 239.29)" fill="#008000"/><use href="#s15" transform="translate(960 239.29)" fill="#008000"/><use href="#s7" transform="translate(1033 239.29)" fill="#008000"/><use href="#s19" transform="translate(1106 239.29)" fill="#008000"/><use href="#s21" transform="translate(1179 239.29)" fill="#008000"/><use href="#s16" transform="translate(1252 239.29)" fill="#008000"/><use href="#s6" transform="translate(1325 239.29)" fill="#008000"/><use href="#s10" transform="translate(1398 239.29)" fill="#008000"/><use href="#s21" transform="translate(1471 239.29)" fill="#008000"/><use href="#s23" transform="translate(1544 239.29)" fill="#008000"/><use href="#s3" transform="translate(1617 239.29)" fill="#008000"/><use href="#s20" transform="translate(230 262.17)" fill="#000000"/><use href="#s21" transform="translate(303 262.17)" fill="#000000"/><use href="#s1" transform="translate(376 262.17)" fill="#000000"/><use href="#s7" transform="translate(449 262.17)" fill="#000000"/><use href="#s0" transform="translate(522 262.17)" fill="#000000"/><use href="#s3" transform="translate(595 262.17)" fill="#000000"/><use href="#s8" transform="translate(668 262.17)" fill="#000000"/><use href="#s22" transform="translate(741 262.17)" fill="#000000"/><use href="#s15" transform="translate(814 262.17)" fill="#000000"/><use href="#s3" transform="translate(887 262.17)" fill="#000000"/><use href="#s0" transform="translate(960 262.17)" fill="#000000"/><use href="#s21" transform="translate(1033 262.17)" fill="#000000"/><use href="#s8" transform="translate(1106 262.17)" fill="#000000"/><use href="#s3" transform="translate(1179 262.17)" fill="#000000"/><use href="#s13" transform="translate(1252 262.17)" fill="#000000"/><use href="#s20" transform="translate(1325 262.17)" fill="#000000"/><use href="#s6" transform="translate(1398 262.17)" fill="#000000"/><use href="#s19" transform="translate(1471 262.17)" fill="#000000"/><use href="#s17" transform="translate(1544 262.17)" fill="#000000"/><use href="#s8" transform="translate(1617 262.17)" fill="#000000"/><use href="#s0" transform="translate(230 285.04)" fill="#ff0000"/><use href="#s5" transform="translate(303 285.04)" fill="#ff0000"/><use href="#s7" transform="translate(376 285.04)" fill="#ff0000"/><use href="#s1" transform="translate(449 285.04)" fill="#ff0000"/><use href="#s18" transform="translate(522 285.04)" fill="#ff0000"/><use href="#s5" transform="translate(595 285.04)" fill="#ff0000"/><use href="#s17" transform="translate(668 285.04)" fill="#ff0000"/><use href="#s9" transform="translate(741 285.04)" fill="#ff0000"/><use href="#s3" transform="translate(814 285.04)" fill="#ff0000"/><use href="#s6" transform="translate(887 285.04)" fill="#ff0000"/><use href="#s5" transform="translate(960 285.04)" fill="#ff0000"/><use href="#s10" transform="translate(1033 285.04)" fill="#ff0000"/><use href="#s16" transform="translate(1106 285.04)" fill="#ff0000"/><use href="#s2" transform="translate(1179 285.04)" fill="#ff0000"/><use href="#s2" transform="translate(1252 285.04)" fill="#ff0000"/><use href="#s1" transform="translate(1325 285.04)" fill="#ff0000"/><use href="#s8" transform="translate(1398 285.04)" fill="#ff0000"/><use href="#s2" transform="translate(1471 285.04)" fill="#ff0000"/><use href="#s14" transform="translate(1544 285.04)" fill="#ff0000"/><use href="#s11" transform="translate(1617 285.04)" fill="#ff0000"/><use href="#s15" transform="translate(230 307.92)" fill="#0000ff"/><use href="#s5" transform="translate(303 307.92)" fill="#0000ff"/><use href="#s12" transform="translate(376 307.92)" fill="#0000ff"/><use href="#s23" transform="translate(449 307.92)" fill="#0000ff"/><use href="#s16" transform="translate(522 307.92)" fill="#0000ff"/><use href="#s7" transform="translate(595 307.92)" fill="#0000ff"/><use href="#s15" transform="translate(668 307.92)" fill="#0000ff"/><use href="#s15" transform="translate(741 307.92)" fill="#0000ff"/><use href="#s10" transform="translate(814 307.92)" fill="#0000ff"/><use href="#s9" transform="translate(887 307.92)" fill="#0000ff"/><use href="#s14" transform="translate(960 307.92)" fill="#0000ff"/><use href="#s15" transform="translate(1033 307.92)" fill="#0000ff"/><use href="#s16" transform="translate(1106 307.92)" fill="#0000ff"/><use href="#s6" transform="translate(1179 307.92)" fill="#0000ff"/><use href="#s18" transform="translate(1252 307.92)" fill="#0000ff"/><use href="#s2" transform="translate(1325 307.92)" fill="#0000ff"/><use href="#s12" transform="translate(1398 307.92)" fill="#0000ff"/><use href="#s11" transform="translate(1471 307.92)" fill="#0000ff"/><use href="#s6" transform="translate(1544 307.92)" fill="#0000ff"/><use href="#s20" transform="translate(1617 307.92)" fill="#0000ff"/><use href="#s14" transform="translate(230 330.80)" fill="#008000"/><use href="#s9" transform="translate(303 330.80)" fill="#008000"/><use href="#s6" transform="translate(376 330.80)" fill="#008000"/><use href="#s12" transform="translate(449 330.80)" fill="#008000"/><use href="#s5" transform="translate(522 330.80)" fill="#008000"/><use href="#s19" transform="translate(595 330.80)" fill="#008000"/><use href="#s11" transform="translate(668 330.80)" fill="#008000"/><use href="#s10" transform="translate(741 330.80)" fill="#008000"/><use href="#s13" transform="translate(814 330.80)" fill="#008000"/><use href="#s8" transform="translate(887 330.80)" fill="#008000"/><use href="#s17" transform="translate(960 330.80)" fill="#008000"/><use href="#s6" transform="translate(1033 330.80)" fill="#008000"/><use href="#s2" transform="translate(1106 330.80)" fill="#008000"/><use href="#s4" transform="translate(1179 330.80)" fill="#008000"/><use href="#s7" transform="translate(1252 330.80)" fill="#008000"/><use href="#s11" transform="translate(1325 330.80)" fill="#008000"/><use href="#s19" transform="translate(1398 330.80)" fill="#008000"/><use href="#s20" transform="translate(1471 330.80)" fill="#008000"/><use href="#s14" transform="translate(1544 330.80)" fill="#008000"/><use href="#s5" transform="translate(1617 330.80)" fill="#008000"/><use href="#s1" transform="translate(230 353.67)" fill="#000000"/><use href="#s13" transform="translate(303 353.67)" fill="#000000"/><use href="#s15" transform="translate(376 353.67)" fill="#000000"/><use href="#s2" transform="translate(449 353.67)" fill="#000000"/><use href="#s0" transform="translate(522 353.67)" fill="#000000"/><use href="#s21" transform="translate(595 353.67)" fill="#000000"/><use href="#s20" transform="translate(668 353.67)" fill="#000000"/><use href="#s20" transform="translate(741 353.67)" fill="#000000"/><use href="#s15" transform="translate(814 353.67)" fill="#000000"/><use href="#s22" transform="translate(887 353.67)" fill="#000000"/><use href="#s12" transform="translate(960 353.67)" fill="#000000"/><use href="#s10" transform="translate(1033 353.67)" fill="#000000"/><use href="#s22" transform="translate(1106 353.67)" fill="#000000"/><use href="#s1" transform="translate(1179 353.67)" fill="#000000"/><use href="#s11" transform="translate(1252 353.67)" fill="#000000"/><use href="#s12" transform="translate(1325 353.67)" fill="#000000"/><use href="#s1" transform="translate(1398 353.67)" fill="#000000"/><use href="#s15" transform="translate(1471 353.67)" fill="#000000"/><use href="#s16" transform="translate(1544 353.67)" fill="#000000"/><use href="#s16" transform="translate(1617 353.67)" fill="#000000"/><use href="#s20" transform="translate(230 376.55)" fill="#ff0000"/><use href="#s6" transform="translate(303 376.55)" fill="#ff0000"/><use href="#s23" transform="translate(376 376.55)" fill="#ff0000"/><use href="#s9" transform="translate(449 376.55)" fill="#ff0000"/><use href="#s6" transform="translate(522 376.55)" fill="#ff0000"/><use href="#s17" transform="translate(595 376.55)" fill="#ff0000"/><use href="#s11" transform="translate(668 376.55)" fill="#ff0000"/><use href="#s12" transform="translate(741 376.55)" fill="#ff0000"/><use href="#s7" transform="translate(814 376.55)" fill="#ff0000"/><use href="#s5" transform="translate(887 376.55)" fill="#ff0000"/><use href="#s21" transform="translate(960 376.55)" fill="#ff0000"/><use href="#s14" transform="translate(1033 376.55)" fill="#ff0000"/><use href="#s11" transform="translate(1106 376.55)" fill="#ff0000"/><use href="#s7" transform="translate(1179 376.55)" fill="#ff0000"/><use href="#s17" transform="translate(1252 376.55)" fill="#ff0000"/><use href="#s5" transform="translate(1325 376.55)" fill="#ff0000"/><use href="#s4" transform="translate(1398 376.55)" fill="#ff0000"/><use href="#s23" transform="translate(1471 376.55)" fill="#ff0000"/><use href="#s21" transform="translate(1544 376.55)" fill="#ff0000"/><use href="#s4" transform="translate(1617 376.55)" fill="#ff0000"/><use href="#s12" transform="translate(230 399.43)" fill="#0000ff"/><use href="#s19" transform="translate(303 399.43)" fill="#0000ff"/><use href="#s13" transform="translate(376 399.43)" fill="#0000ff"/><use href="#s14" transform="translate(449 399.43)" fill="#0000ff"/><use href="#s17" transform="translate(522 399.43)" fill="#0000ff"/><use href="#s7" transform="translate(595 399.43)" fill="#0000ff"/><use href="#s4" transform="translate(668 399.43)" fill="#0000ff"/><use href="#s4" transform="translate(741 399.43)" fill="#0000ff"/><use href="#s17" transform="translate(814 399.43)" fill="#0000ff"/><use href="#s5" transform="translate(887 399.43)" fill="#0000ff"/><use href="#s19" transform="translate(960 399.43)" fill="#0000ff"/><use href="#s14" transform="translate(1033 399.43)" fill="#0000ff"/><use href="#s1" transform="translate(1106 399.43)" fill="#0000ff"/><use href="#s4" transform="translate(1179 399.43)" fill="#0000ff"/><use href="#s18" transform="translate(1252 399.43)" fill="#0000ff"/><use href="#s23" transform="translate(1325 399.43)" fill="#0000ff"/><use href="#s8" transform="translate(1398 399.43)" fill="#0000ff"/><use href="#s13" transform="translate(1471 399.43)" fill="#0000ff"/><use href="#s22" transform="translate(1544 399.43)" fill="#0000ff"/><use href="#s15" transform="translate(1617 399.43)" fill="#0000ff"/><use href="#s23" transform="translate(230 422.30)" fill="#008000"/><use href="#s4" transform="translate(303 422.30)" fill="#008000"/><use href="#s17" transform="translate(376 422.30)" fill="#008000"/><use href="#s12" transform="translate(449 422.30)" fill="#008000"/><use href="#s18" transform="translate(522 422.30)" fill="#008000"/><use href="#s19" transform="translate(595 422.30)" fill="#008000"/><use href="#s11" transform="translate(668 422.30)" fill="#008000"/><use href="#s3" transform="translate(741 422.30)" fill="#008000"/><use href="#s14" transform="translate(814 422.30)" fill="#008000"/><use href="#s22" transform="translate(887 422.30)" fill="#008000"/><use href="#s9" transform="translate(960 422.30)" fill="#008000"/><use href="#s11" transform="translate(1033 422.30)" fill="#008000"/><use href="#s19" transform="translate(1106 422.30)" fill="#008000"/><use href="#s13" transform="translate(1179 422.30)" fill="#008000"/><use href="#s19" transform="translate(1252 422.30)" fill="#008000"/><svg x="1325" y="402.30" width="34" height="40"><use href="#s18" transform="translate(0 20)" fill="#008000"/></svg><svg x="1359" y="402.30" width="9" height="40"><use href="#s12" transform="translate(0 20) scale(1 1.7)" fill="#008000"/></svg><use href="#s20" transform="translate(1368 422.30)" fill="#008000"/><use href="#s19" transform="translate(1441 422.30)" fill="#008000"/><use href="#s9" transform="translate(1514 422.30)" fill="#008000"/><use href="#s21" transform="translate(1587 422.30)" fill="#008000"/><svg x="1660" y="402.30" width="30" height="40"><use href="#s15" transform="translate(0 20)" fill="#008000"/></svg><use href="#s13" transform="translate(230 445.18)" fill="#000000"/><use href="#s11" transform="translate(303 445.18)" fill="#000000"/><use href="#s15" transform="translate(376 445.18)" fill="#000000"/><use href="#s5" transform="translate(449 445.18)" fill="#000000"/><use href="#s16" transform="translate(522 445.18)" fill="#000000"/><use href="#s9" transform="translate(595 445.18)" fill="#000000"/><use href="#s15" transform="translate(668 445.18)" fill="#000000"/><use href="#s13" transform="translate(741 445.18)" fill="#000000"/><use href="#s0" transform="translate(814 445.18)" fill="#000000"/><use href="#s21" transform="translate(887 445.18)" fill="#000000"/><use href="#s23" transform="translate(960 445.18)" fill="#000000"/><use href="#s20" transform="translate(1033 445.18)" fill="#000000"/><use href="#s9" transform="translate(1106 445.18)" fill="#000000"/><use href="#s3" transform="translate(1179 445.18)" fill="#000000"/><use href="#s1" transform="translate(1252 445.18)" fill="#000000"/><use href="#s9" transform="translate(1325 445.18)" fill="#000000"/><use href="#s4" transform="translate(1398 445.18)" fill="#000000"/><use href="#s14" transform="translate(1471 445.18)" fill="#000000"/><use href="#s11" transform="translate(1544 445.18)" fill="#000000"/><use href="#s2" transform="translate(1617 445.18)" fill="#000000"/><use href="#s15" transform="translate(230 468.06)" fill="#ff0000"/><use href="#s3" transform="translate(303 468.06)" fill="#ff0000"/><use href="#s20" transform="translate(376 468.06)" fill="#ff0000"/><use href="#s5" transform="translate(449 468.06)" fill="#ff0000"/><use href="#s8" transform="translate(522 468.06)" fill="#ff0000"/><use href="#s22" transform="translate(595 468.06)" fill="#ff0000"/><use href="#s14" transform="translate(668 468.06)" fill="#ff0000"/><use href="#s2" transform="translate(741 468.06)" fill="#ff0000"/><use href="#s16" transform="translate(814 468.06)" fill="#ff0000"/><use href="#s20" transform="translate(887 468.06)" fill="#ff0000"/><use href="#s18" transform="translate(960 468.06)" fill="#ff0000"/><use href="#s12" transform="translate(1033 468.06)" fill="#ff0000"/><use href="#s23" transform="translate(1106 468.06)" fill="#ff0000"/><use href="#s3" transform="translate(1179 468.06)" fill="#ff0000"/><use href="#s2" transform="translate(1252 468.06)" fill="#ff0000"/><use href="#s13" transform="translate(1325 468.06)" fill="#ff0000"/><use href="#s6" transform="translate(1398 468.06)" fill="#ff0000"/><use href="#s14" transform="translate(1471 468.06)" fill="#ff0000"/><use href="#s3" transform="translate(1544 468.06)" fill="#ff0000"/><svg x="1617" y="448.06" width="65" height="40"><use href="#s21" transform="translate(0 20)" fill="#ff0000"/></svg><svg x="1682" y="448.06" width="8" height="40"><use href="#s14" transform="translate(0 20) scale(1 1.5)" fill="#ff0000"/></svg><use href="#s17" transform="translate(230 490.94)" fill="#0000ff"/><use href="#s13" transform="translate(303 490.94)" fill="#0000ff"/><use href="#s6" transform="translate(376 490.94)" fill="#0000ff"/><use href="#s8" transform="translate(449 490.94)" fill="#0000ff"/><use href="#s18" transform="translate(522 490.94)" fill="#0000ff"/><use href="#s6" transform="translate(595 490.94)" fill="#0000ff"/><use href="#s22" transform="translate(668 490.94)" fill="#0000ff"/><use href="#s14" transform="translate(741 490.94)" fill="#0000ff"/><use href="#s9" transform="translate(814 490.94)" fill="#0000ff"/><use href="#s18" transform="translate(887 490.94)" fill="#0000ff"/><use href="#s2" transform="translate(960 490.94)" fill="#0000ff"/><use href="#s14" transform="translate(1033 490.94)" fill="#0000ff"/><use href="#s15" transform="translate(1106 490.94)" fill="#0000ff"/><use href="#s18" transform="translate(1179 490.94)" fill="#0000ff"/><use href="#s9" transform="translate(1252 490.94)" fill="#0000ff"/><use href="#s5" transform="translate(1325 490.94)" fill="#0000ff"/><use href="#s11" transform="translate(1398 490.94)" fill="#0000ff"/><use href="#s18" transform="translate(1471 490.94)" fill="#0000ff"/><use href="#s12" transform="translate(1544 490.94)" fill="#0000ff"/><use href="#s13" transform="translate(1617 490.94)" fill="#0000ff"/><use href="#s0" transform="translate(230 513.81)" fill="#008000"/><use href="#s3" transform="translate(303 513.81)" fill="#008000"/><use href="#s9" transform="translate(376 513.81)" fill="#008000"/><use href="#s10" transform="translate(449 513.81)" fill="#008000"/><use href="#s18" transform="translate(522 513.81)" fill="#008000"/><use href="#s13" transform="translate(595 513.81)" fill="#008000"/><use href="#s3" transform="translate(668 513.81)" fill="#008000"/><use href="#s2" transform="translate(741 513.81)" fill="#008000"/><use href="#s20" transform="translate(814 513.81)" fill="#008000"/><use href="#s17" transform="translate(887 513.81)" fill="#008000"/><use href="#s14" transform="translate(960 513.81)" fill="#008000"/><use href="#s18" transform="translate(1033 513.81)" fill="#008000"/><use href="#s23" transform="translate(1106 513.81)" fill="#008000"/><use href="#s10" transform="translate(1179 513.81)" fill="#008000"/><use href="#s6" transform="translate(1252 513.81)" fill="#008000"/><use href="#s19" transform="translate(1325 513.81)" fill="#008000"/><use href="#s16" transform="translate(1398 513.81)" fill="#008000"/><use href="#s14" transform="translate(1471 513.81)" fill="#008000"/><use href="#s0" transform="translate(1544 513.81)" fill="#008000"/><use href="#s14" transform="translate(1617 513.81)" fill="#008000"/><use href="#s18" transform="translate(230 536.69)" fill="#000000"/><use href="#s1" transform="translate(303 536.69)" fill="#000000"/><svg x="376" y="516.69" width="24" height="40"><use href="#s5" transform="translate(0 20)" fill="#000000"/></svg><svg x="400" y="516.69" width="22" height="40"><use href="#s3" transform="translate(0 20) scale(1 1.5)" fill="#000000"/></svg><use href="#s12" transform="translate(422 536.69)" fill="#000000"/><use href="#s18" transform="translate(495 536.69)" fill="#000000"/><use href="#s0" transform="translate(568 536.69)" fill="#000000"/><use href="#s4" transform="translate(641 536.69)" fill="#000000"/><use href="#s4" transform="translate(714 536.69)" fill="#000000"/><use href="#s15" transform="translate(787 536.69)" fill="#000000"/><use href="#s19" transform="translate(860 536.69)" fill="#000000"/><use href="#s17" transform="translate(933 536.69)" fill="#000000"/><use href="#s13" transform="translate(1006 536.69)" fill="#000000"/><use href="#s17" transform="translate(1079 536.69)" fill="#000000"/><use href="#s8" transform="translate(1152 536.69)" fill="#000000"/><use href="#s6" transform="translate(1225 536.69)" fill="#000000"/><use href="#s11" transform="translate(1298 536.69)" fill="#000000"/><use href="#s5" transform="translate(1371 536.69)" fill="#000000"/><use href="#s21" transform="translate(1444 536.69)" fill="#000000"/><use href="#s11" transform="translate(1517 536.69)" fill="#000000"/><use href="#s22" transform="translate(1590 536.69)" fill="#000000"/><svg x="1663" y="516.69" width="27" height="40"><use href="#s0" transform="translate(0 20)" fill="#000000"/></svg><use href="#s2" transform="translate(230 559.57)" fill="#ff0000"/><use href="#s22" transform="translate(303 559.57)" fill="#ff0000"/><use href="#s5" transform="translate(376 559.57)" fill="#ff0000"/><use href="#s1" transform="translate(449 559.57)" fill="#ff0000"/><use href="#s21" transform="translate(522 559.57)" fill="#ff0000"/><use href="#s18" transform="translate(595 559.57)" fill="#ff0000"/><use href="#s23" transform="translate(668 559.57)" fill="#ff0000"/><use href="#s15" transform="translate(741 559.57)" fill="#ff0000"/><use href="#s19" transform="translate(814 559.57)" fill="#ff0000"/><use href="#s15" transform="translate(887 559.57)" fill="#ff0000"/><use href="#s23" transform="translate(960 559.57)" fill="#ff0000"/><use href="#s16" transform="translate(1033 559.57)" fill="#ff0000"/><use href="#s13" transform="translate(1106 559.57)" fill="#ff0000"/><use href="#s6" transform="translate(1179 559.57)" fill="#ff0000"/><use href="#s14" transform="translate(1252 559.57)" fill="#ff0000"/><use href="#s12" transform="translate(1325 559.57)" fill="#ff0000"/><use href="#s5" transform="translate(1398 559.57)" fill="#ff0000"/><use href="#s11" transform="translate(1471 559.57)" fill="#ff0000"/><use href="#s3" transform="translate(1544 559.57)" fill="#ff0000"/><use href="#s12" transform="translate(1617 559.57)" fill="#ff0000"/><use href="#s16" transform="translate(230 582.44)" fill="#0000ff"/><use href="#s20" transform="translate(303 582.44)" fill="#0000ff"/><use href="#s9" transform="translate(376 582.44)" fill="#0000ff"/><use href="#s11" transform="translate(449 582.44)" fill="#0000ff"/><use href="#s11" transform="translate(522 582.44)" fill="#0000ff"/><svg x="595" y="562.44" width="36" height="40"><use href="#s0" transform="translate(0 20)" fill="#0000ff"/></svg><svg x="631" y="562.44" width="30" height="40"><use href="#s18" transform="translate(0 20) scale(1 1.6)" fill="#0000ff"/></svg><use href="#s20" transform="translate(661 582.44)" fill="#0000ff"/><use href="#s14" transform="translate(734 582.44)" fill="#0000ff"/><use href="#s8" transform="translate(807 582.44)" fill="#0000ff"/><use href="#s19" transform="translate(880 582.44)" fill="#0000ff"/><use href="#s23" transform="translate(953 582.44)" fill="#0000ff"/><use href="#s20" transform="translate(1026 582.44)" fill="#0000ff"/><use href="#s6" transform="translate(1099 582.44)" fill="#0000ff"/><use href="#s2" transform="translate(1172 582.44)" fill="#0000ff"/><use href="#s16" transform="translate(1245 582.44)" fill="#0000ff"/><use href="#s17" transform="translate(1318 582.44)" fill="#0000ff"/><use href="#s20" transform="translate(1391 582.44)" fill="#0000ff"/><use href="#s6" transform="translate(1464 582.44)" fill="#0000ff"/><use href="#s10" transform="translate(1537 582.44)" fill="#0000ff"/><use href="#s5" transform="translate(1610 582.44)" fill="#0000ff"/><svg x="1683" y="562.44" width="7" height="40"><use href="#s18" transform="translate(0 20)" fill="#0000ff"/></svg><use href="#s7" transform="translate(230 605.32) scale(1 1.15)" fill="#008000"/><svg x="303" y="585.32" width="34" height="40"><use href="#s16" transform="translate(0 20) scale(1 1.15)" fill="#008000"/></svg><svg x="337" y="585.32" width="29" height="40"><use href="#s0" transform="translate(0 20) scale(1 1.5)" fill="#008000"/></svg><use href="#s14" transform="translate(366 605.32) scale(1 1.15)" fill="#008000"/><use href="#s8" transform="translate(439 605.32) scale(1 1.15)" fill="#008000"/><use href="#s15" transform="translate(512 605.32) scale(1 1.15)" fill="#008000"/><use href="#s10" transform="translate(585 605.32) scale(1 1.15)" fill="#008000"/><svg x="658" y="585.32" width="27" height="40"><use href="#s0" transform="translate(0 20) scale(1 1.15)" fill="#008000"/></svg><use href="#s9" transform="translate(685 605.32) scale(1 1.5)" fill="#008000"/><use href="#s3" transform="translate(758 605.32) scale(1 1.5)" fill="#008000"/><use href="#s21" transform="translate(831 605.32) scale(1 1.5)" fill="#008000"/><use href="#s9" transform="translate(904 605.32) scale(1 1.5)" fill="#008000"/><use href="#s3" transform="translate(977 605.32) scale(1 1.5)" fill="#008000"/><use href="#s19" transform="translate(1050 605.32) scale(1 1.5)" fill="#008000"/><use href="#s8" transform="translate(1123 605.32) scale(1 1.5)" fill="#008000"/><use href="#s0" transform="translate(1196 605.32) scale(1 1.5)" fill="#008000"/><use href="#s14" transform="translate(1269 605.32) scale(1 1.5)" fill="#008000"/><use href="#s1" transform="translate(1342 605.32) scale(1 1.5)" fill="#008000"/><use href="#s8" transform="translate(1415 605.32) scale(1 1.5)" fill="#008000"/><use href="#s0" transform="translate(1488 605.32) scale(1 1.5)" fill="#008000"/><use href="#s4" transform="translate(1561 605.32) scale(1 1.5)" fill="#008000"/><svg x="1634" y="585.32" width="56" height="40"><use href="#s20" transform="translate(0 20) scale(1 1.5)" fill="#008000"/></svg><svg x="230" y="608.20" width="19" height="40"><use href="#s0" transform="translate(0 20) scale(1 1.6)" fill="#000000"/></svg><use href="#s22" transform="translate(249 628.20)" fill="#000000"/><use href="#s21" transform="translate(322 628.20)" fill="#000000"/><use href="#s0" transform="translate(395 628.20)" fill="#000000"/><use href="#s19" transform="translate(468 628.20)" fill="#000000"/><use href="#s10" transform="translate(541 628.20)" fill="#000000"/><use href="#s10" transform="translate(614 628.20)" fill="#000000"/><use href="#s12" transform="translate(687 628.20)" fill="#000000"/><use href="#s1" transform="translate(760 628.20)" fill="#000000"/><use href="#s16" transform="translate(833 628.20)" fill="#000000"/><use href="#s12" transform="translate(906 628.20)" fill="#000000"/><use href="#s10" transform="translate(979 628.20)" fill="#000000"/><use href="#s4" transform="translate(1052 628.20)" fill="#000000"/><use href="#s0" transform="translate(1125 628.20)" fill="#000000"/><use href="#s2" transform="translate(1198 628.20)" fill="#000000"/><use href="#s12" transform="translate(1271 628.20)" fill="#000000"/><use href="#s14" transform="translate(1344 628.20)" fill="#000000"/><use href="#s10" transform="translate(1417 628.20)" fill="#000000"/><use href="#s21" transform="translate(1490 628.20)" fill="#000000"/><use href="#s3" transform="translate(1563 628.20)" fill="#000000"/><svg x="1636" y="608.20" width="54" height="40"><use href="#s9" transform="translate(0 20)" fill="#000000"/></svg><use href="#s19" transform="translate(230 651.07) scale(1 1.1)" fill="#ff0000"/><use href="#s21" transform="translate(303 651.07) scale(1 1.1)" fill="#ff0000"/><use href="#s14" transform="translate(376 651.07) scale(1 1.1)" fill="#ff0000"/><use href="#s18" transform="translate(449 651.07) scale(1 1.1)" fill="#ff0000"/><use href="#s15" transform="translate(522 651.07) scale(1 1.1)" fill="#ff0000"/><use href="#s10" transform="translate(595 651.07) scale(1 1.1)" fill="#ff0000"/><use href="#s6" transform="translate(668 651.07) scale(1 1.1)" fill="#ff0000"/><use href="#s11" transform="translate(741 651.07) scale(1 1.1)" fill="#ff0000"/><use href="#s0" transform="translate(814 651.07) scale(1 1.1)" fill="#ff0000"/><use href="#s19" transform="translate(887 651.07) scale(1 1.1)" fill="#ff0000"/><use href="#s7" transform="translate(960 651.07) scale(1 1.1)" fill="#ff0000"/><use href="#s16" transform="translate(1033 651.07) scale(1 1.1)" fill="#ff0000"/><use href="#s22" transform="translate(1106 651.07) scale(1 1.1)" fill="#ff0000"/><use href="#s3" transform="translate(1179 651.07) scale(1 1.1)" fill="#ff0000"/><use href="#s20" transform="translate(1252 651.07) scale(1 1.1)" fill="#ff0000"/><use href="#s3" transform="translate(1325 651.07) scale(1 1.1)" fill="#ff0000"/><svg x="1398" y="631.07" width="2" height="40"><use href="#s5" transform="translate(0 20) scale(1 1.1)" fill="#ff0000"/></svg><use href="#s9" transform="translate(1400 651.07) scale(1 1.2)" fill="#ff0000"/><svg x="1473" y="631.07" width="32" height="40"><use href="#s5" transform="translate(0 20) scale(1 1.2)" fill="#ff0000"/></svg><use href="#s3" transform="translate(1505 651.07) scale(1 1.1)" fill="#ff0000"/><use href="#s19" transform="translate(1578 651.07) scale(1 1.1)" fill="#ff0000"/><svg x="1651" y="631.07" width="39" height="40"><use href="#s11" transform="translate(0 20) scale(1 1.1)" fill="#ff0000"/></svg><use href="#s20" transform="translate(230 673.95) scale(1 1.3)" fill="#0000ff"/><use href="#s16" transform="translate(303 673.95) scale(1 1.3)" fill="#0000ff"/><use href="#s0" transform="translate(376 673.95) scale(1 1.3)" fill="#0000ff"/><use href="#s4" transform="translate(449 673.95) scale(1 1.3)" fill="#0000ff"/><use href="#s15" transform="translate(522 673.95) scale(1 1.3)" fill="#0000ff"/><use href="#s17" transform="translate(595 673.95) scale(1 1.3)" fill="#0000ff"/><use href="#s11" transform="translate(668 673.95) scale(1 1.3)" fill="#0000ff"/><use href="#s15" transform="translate(741 673.95) scale(1 1.3)" fill="#0000ff"/><use href="#s20" transform="translate(814 673.95) scale(1 1.3)" fill="#0000ff"/><use href="#s16" transform="translate(887 673.95) scale(1 1.3)" fill="#0000ff"/><use href="#s16" transform="translate(960 673.95) scale(1 1.3)" fill="#0000ff"/><use href="#s13" transform="translate(1033 673.95) scale(1 1.3)" fill="#0000ff"/><use href="#s2" transform="translate(1106 673.95) scale(1 1.3)" fill="#0000ff"/><use href="#s11" transform="translate(1179 673.95) scale(1 1.3)" fill="#0000ff"/><use href="#s18" transform="translate(1252 673.95) scale(1 1.3)" fill="#0000ff"/><use href="#s14" transform="translate(1325 673.95) scale(1 1.3)" fill="#0000ff"/><use href="#s2" transform="translate(1398 673.95) scale(1 1.3)" fill="#0000ff"/><use href="#s19" transform="translate(1471 673.95) scale(1 1.3)" fill="#0000ff"/><use href="#s10" transform="translate(1544 673.95) scale(1 1.3)" fill="#0000ff"/><svg x="1617" y="653.95" width="62" height="40"><use href="#s8" transform="translate(0 20) scale(1 1.3)" fill="#0000ff"/></svg><svg x="1679" y="653.95" width="11" height="40"><use href="#s1" transform="translate(0 20) scale(1 1.7)" fill="#0000ff"/></svg><use href="#s3" transform="translate(230 696.83) scale(1 1.12)" fill="#008000"/><use href="#s3" transform="translate(303 696.83) scale(1 1.12)" fill="#008000"/><use href="#s10" transform="translate(376 696.83) scale(1 1.12)" fill="#008000"/><use href="#s8" transform="translate(449 696.83) scale(1 1.12)" fill="#008000"/><use href="#s4" transform="translate(522 696.83) scale(1 1.12)" fill="#008000"/><use href="#s11" transform="translate(595 696.83) scale(1 1.12)" fill="#008000"/><svg x="668" y="676.83" width="32" height="40"><use href="#s22" transform="translate(0 20) scale(1 1.12)" fill="#008000"/></svg><use href="#s14" transform="translate(700 696.83)" fill="#008000"/><use href="#s18" transform="translate(773 696.83)" fill="#008000"/><use href="#s15" transform="translate(846 696.83)" fill="#008000"/><use href="#s14" transform="translate(919 696.83)" fill="#008000"/><use href="#s9" transform="translate(992 696.83)" fill="#008000"/><use href="#s1" transform="translate(1065 696.83)" fill="#008000"/><use href="#s8" transform="translate(1138 696.83)" fill="#008000"/><use href="#s16" transform="translate(1211 696.83)" fill="#008000"/><use href="#s13" transform="translate(1284 696.83)" fill="#008000"/><use href="#s18" transform="translate(1357 696.83)" fill="#008000"/><use href="#s1" transform="translate(1430 696.83)" fill="#008000"/><use href="#s22" transform="translate(1503 696.83)" fill="#008000"/><use href="#s13" transform="translate(1576 696.83)" fill="#008000"/><svg x="1649" y="676.83" width="41" height="40"><use href="#s5" transform="translate(0 20)" fill="#008000"/></svg><use href="#s23" transform="translate(230 719.71)" fill="#000000"/><use href="#s16" transform="translate(303 719.71)" fill="#000000"/><use href="#s9" transform="translate(376 719.71)" fill="#000000"/><use href="#s5" transform="translate(449 719.71)" fill="#000000"/><use href="#s2" transform="translate(522 719.71)" fill="#000000"/><use href="#s22" transform="translate(595 719.71)" fill="#000000"/><use href="#s18" transform="translate(668 719.71)" fill="#000000"/><use href="#s15" transform="translate(741 719.71)" fill="#000000"/><use href="#s6" transform="translate(814 719.71)" fill="#000000"/><use href="#s22" transform="translate(887 719.71)" fill="#000000"/><use href="#s14" transform="translate(960 719.71)" fill="#000000"/><use href="#s7" transform="translate(1033 719.71)" fill="#000000"/><use href="#s21" transform="translate(1106 719.71)" fill="#000000"/><use href="#s5" transform="translate(1179 719.71)" fill="#000000"/><use href="#s0" transform="translate(1252 719.71)" fill="#000000"/><use href="#s12" transform="translate(1325 719.71)" fill="#000000"/><use href="#s0" transform="translate(1398 719.71)" fill="#000000"/><use href="#s2" transform="translate(1471 719.71)" fill="#000000"/><use href="#s12" transform="translate(1544 719.71)" fill="#000000"/><use href="#s6" transform="translate(1617 719.71)" fill="#000000"/><use href="#s2" transform="translate(230 742.58)" fill="#ff0000"/><use href="#s11" transform="translate(303 742.58)" fill="#ff0000"/><use href="#s11" transform="translate(376 742.58)" fill="#ff0000"/><use href="#s20" transform="translate(449 742.58)" fill="#ff0000"/><use href="#s15" transform="translate(522 742.58)" fill="#ff0000"/><use href="#s0" transform="translate(595 742.58)" fill="#ff0000"/><use href="#s9" transform="translate(668 742.58)" fill="#ff0000"/><use href="#s20" transform="translate(741 742.58)" fill="#ff0000"/><use href="#s1" transform="translate(814 742.58)" fill="#ff0000"/><use href="#s14" transform="translate(887 742.58)" fill="#ff0000"/><use href="#s12" transform="translate(960 742.58)" fill="#ff0000"/><use href="#s2" transform="translate(1033 742.58)" fill="#ff0000"/><use href="#s1" transform="translate(1106 742.58)" fill="#ff0000"/><use href="#s16" transform="translate(1179 742.58)" fill="#ff0000"/><use href="#s16" transform="translate(1252 742.58)" fill="#ff0000"/><use href="#s11" transform="translate(1325 742.58)" fill="#ff0000"/><use href="#s7" transform="translate(1398 742.58)" fill="#ff0000"/><use href="#s6" transform="translate(1471 742.58)" fill="#ff0000"/><use href="#s11" transform="translate(1544 742.58)" fill="#ff0000"/><use href="#s2" transform="translate(1617 742.58)" fill="#ff0000"/><use href="#s8" transform="translate(230 765.46)" fill="#0000ff"/><use href="#s11" transform="translate(303 765.46)" fill="#0000ff"/><use href="#s19" transform="translate(376 765.46)" fill="#0000ff"/><use href="#s11" transform="translate(449 765.46)" fill="#0000ff"/><use href="#s19" transform="translate(522 765.46)" fill="#0000ff"/><use href="#s1" transform="translate(595 765.46)" fill="#0000ff"/><use href="#s14" transform="translate(668 765.46)" fill="#0000ff"/><use href="#s14" transform="translate(741 765.46)" fill="#0000ff"/><use href="#s5" transform="translate(814 765.46)" fill="#0000ff"/><use href="#s17" transform="translate(887 765.46)" fill="#0000ff"/><use href="#s8" transform="translate(960 765.46)" fill="#0000ff"/><use href="#s9" transform="translate(1033 765.46)" fill="#0000ff"/><use href="#s3" transform="translate(1106 765.46)" fill="#0000ff"/><use href="#s12" transform="translate(1179 765.46)" fill="#0000ff"/><use href="#s8" transform="translate(1252 765.46)" fill="#0000ff"/><use href="#s6" transform="translate(1325 765.46)" fill="#0000ff"/><use href="#s23" transform="translate(1398 765.46)" fill="#0000ff"/><use href="#s21" transform="translate(1471 765.46)" fill="#0000ff"/><use href="#s15" transform="translate(1544 765.46)" fill="#0000ff"/><use href="#s3" transform="translate(1617 765.46)" fill="#0000ff"/><use href="#s13" transform="translate(230 788.34)" fill="#008000"/><use href="#s15" transform="translate(303 788.34)" fill="#008000"/><use href="#s21" transform="translate(376 788.34)" fill="#008000"/><use href="#s13" transform="translate(449 788.34)" fill="#008000"/><use href="#s16" transform="translate(522 788.34)" fill="#008000"/><use href="#s19" transform="translate(595 788.34)" fill="#008000"/><use href="#s11" transform="translate(668 788.34)" fill="#008000"/><use href="#s6" transform="translate(741 788.34)" fill="#008000"/><use href="#s5" transform="translate(814 788.34)" fill="#008000"/><use href="#s6" transform="translate(887 788.34)" fill="#008000"/><use href="#s6" transform="translate(960 788.34)" fill="#008000"/><use href="#s13" transform="translate(1033 788.34)" fill="#008000"/><use href="#s6" transform="translate(1106 788.34)" fill="#008000"/><use href="#s19" transform="translate(1179 788.34)" fill="#008000"/><use href="#s16" transform="translate(1252 788.34)" fill="#008000"/><use href="#s23" transform="translate(1325 788.34)" fill="#008000"/><use href="#s15" transform="translate(1398 788.34)" fill="#008000"/><use href="#s20" transform="translate(1471 788.34)" fill="#008000"/><use href="#s0" transform="translate(1544 788.34)" fill="#008000"/><use href="#s18" transform="translate(1617 788.34)" fill="#008000"/><use href="#s0" transform="translate(230 811.21)" fill="#000000"/><use href="#s13" transform="translate(303 811.21)" fill="#000000"/><use href="#s1" transform="translate(376 811.21)" fill="#000000"/><use href="#s15" transform="translate(449 811.21)" fill="#000000"/><use href="#s10" transform="translate(522 811.21)" fill="#000000"/><use href="#s10" transform="translate(595 811.21)" fill="#000000"/><use href="#s11" transform="translate(668 811.21)" fill="#000000"/><use href="#s22" transform="translate(741 811.21)" fill="#000000"/><use href="#s15" transform="translate(814 811.21)" fill="#000000"/><use href="#s16" transform="translate(887 811.21)" fill="#000000"/><use href="#s1" transform="translate(960 811.21)" fill="#000000"/><use href="#s21" transform="translate(1033 811.21)" fill="#000000"/><use href="#s9" transform="translate(1106 811.21)" fill="#000000"/><use href="#s19" transform="translate(1179 811.21)" fill="#000000"/><use href="#s0" transform="translate(1252 811.21)" fill="#000000"/><use href="#s3" transform="translate(1325 811.21)" fill="#000000"/><use href="#s12" transform="translate(1398 811.21)" fill="#000000"/><use href="#s16" transform="translate(1471 811.21)" fill="#000000"/><use href="#s1" transform="translate(1544 811.21)" fill="#000000"/><use href="#s23" transform="translate(1617 811.21)" fill="#000000"/><use href="#s8" transform="translate(230 834.09)" fill="#ff0000"/><use href="#s21" transform="translate(303 834.09)" fill="#ff0000"/><use href="#s22" transform="translate(376 834.09)" fill="#ff0000"/><use href="#s14" transform="translate(449 834.09)" fill="#ff0000"/><use href="#s6" transform="translate(522 834.09)" fill="#ff0000"/><use href="#s0" transform="translate(595 834.09)" fill="#ff0000"/><use href="#s9" transform="translate(668 834.09)" fill="#ff0000"/><use href="#s8" transform="translate(741 834.09)" fill="#ff0000"/><use href="#s3" transform="translate(814 834.09)" fill="#ff0000"/><use href="#s22" transform="translate(887 834.09)" fill="#ff0000"/><use href="#s21" transform="translate(960 834.09)" fill="#ff0000"/><use href="#s1" transform="translate(1033 834.09)" fill="#ff0000"/><use href="#s5" transform="translate(1106 834.09)" fill="#ff0000"/><use href="#s20" transform="translate(1179 834.09)" fill="#ff0000"/><use href="#s16" transform="translate(1252 834.09)" fill="#ff0000"/><use href="#s3" transform="translate(1325 834.09)" fill="#ff0000"/><use href="#s18" transform="translate(1398 834.09)" fill="#ff0000"/><use href="#s17" transform="translate(1471 834.09)" fill="#ff0000"/><use href="#s1" transform="translate(1544 834.09)" fill="#ff0000"/><use href="#s11" transform="translate(1617 834.09)" fill="#ff0000"/><use href="#s20" transform="translate(230 856.97)" fill="#0000ff"/><use href="#s13" transform="translate(303 856.97)" fill="#0000ff"/><use href="#s12" transform="translate(376 856.97)" fill="#0000ff"/><use href="#s3" transform="translate(449 856.97)" fill="#0000ff"/><use href="#s0" transform="translate(522 856.97)" fill="#0000ff"/><use href="#s11" transform="translate(595 856.97)" fill="#0000ff"/><use href="#s19" transform="translate(668 856.97)" fill="#0000ff"/><use href="#s20" transform="translate(741 856.97)" fill="#0000ff"/><use href="#s22" transform="translate(814 856.97)" fill="#0000ff"/><use href="#s19" transform="translate(887 856.97)" fill="#0000ff"/><use href="#s22" transform="translate(960 856.97)" fill="#0000ff"/><use href="#s9" transform="translate(1033 856.97)" fill="#0000ff"/><use href="#s9" transform="translate(1106 856.97)" fill="#0000ff"/><use href="#s20" transform="translate(1179 856.97)" fill="#0000ff"/><use href="#s14" transform="translate(1252 856.97)" fill="#0000ff"/><use href="#s9" transform="translate(1325 856.97)" fill="#0000ff"/><use href="#s19" transform="translate(1398 856.97)" fill="#0000ff"/><use href="#s8" transform="translate(1471 856.97)" fill="#0000ff"/><use href="#s20" transform="translate(1544 856.97)" fill="#0000ff"/><use href="#s8" transform="translate(1617 856.97)" fill="#0000ff"/><use href="#s22" transform="translate(230 879.84)" fill="#008000"/><use href="#s12" transform="translate(303 879.84)" fill="#008000"/><use href="#s1" transform="translate(376 879.84)" fill="#008000"/><use href="#s8" transform="translate(449 879.84)" fill="#008000"/><use href="#s23" transform="translate(522 879.84)" fill="#008000"/><use href="#s1" transform="translate(595 879.84)" fill="#008000"/><use href="#s12" transform="translate(668 879.84)" fill="#008000"/><use href="#s11" transform="translate(741 879.84)" fill="#008000"/><use href="#s23" transform="translate(814 879.84)" fill="#008000"/><use href="#s19" transform="translate(887 879.84)" fill="#008000"/><use href="#s13" transform="translate(960 879.84)" fill="#008000"/><use href="#s6" transform="translate(1033 879.84)" fill="#008000"/><use href="#s3" transform="translate(1106 879.84)" fill="#008000"/><use href="#s21" transform="translate(1179 879.84)" fill="#008000"/><use href="#s23" transform="translate(1252 879.84)" fill="#008000"/><use href="#s17" transform="translate(1325 879.84)" fill="#008000"/><use href="#s3" transform="translate(1398 879.84)" fill="#008000"/><use href="#s9" transform="translate(1471 879.84)" fill="#008000"/><use href="#s6" transform="translate(1544 879.84)" fill="#008000"/><use href="#s18" transform="translate(1617 879.84)" fill="#008000"/><use href="#s2" transform="translate(230 902.72)" fill="#000000"/><use href="#s7" transform="translate(303 902.72)" fill="#000000"/><use href="#s6" transform="translate(376 902.72)" fill="#000000"/><use href="#s11" transform="translate(449 902.72)" fill="#000000"/><use href="#s19" transform="translate(522 902.72)" fill="#000000"/><use href="#s4" transform="translate(595 902.72)" fill="#000000"/><use href="#s12" transform="translate(668 902.72)" fill="#000000"/><use href="#s3" transform="translate(741 902.72)" fill="#000000"/><use href="#s20" transform="translate(814 902.72)" fill="#000000"/><use href="#s12" transform="translate(887 902.72)" fill="#000000"/><use href="#s17" transform="translate(960 902.72)" fill="#000000"/><use href="#s14" transform="translate(1033 902.72)" fill="#000000"/><use href="#s4" transform="translate(1106 902.72)" fill="#000000"/><use href="#s21" transform="translate(1179 902.72)" fill="#000000"/><use href="#s8" transform="translate(1252 902.72)" fill="#000000"/><use href="#s2" transform="translate(1325 902.72)" fill="#000000"/><use href="#s4" transform="translate(1398 902.72)" fill="#000000"/><use href="#s2" transform="translate(1471 902.72)" fill="#000000"/><use href="#s23" transform="translate(1544 902.72)" fill="#000000"/><use href="#s0" transform="translate(1617 902.72)" fill="#000000"/><use href="#s12" transform="translate(230 925.60)" fill="#ff0000"/><use href="#s4" transform="translate(303 925.60)" fill="#ff0000"/><use href="#s6" transform="translate(376 925.60)" fill="#ff0000"/><use href="#s21" transform="translate(449 925.60)" fill="#ff0000"/><use href="#s0" transform="translate(522 925.60)" fill="#ff0000"/><use href="#s3" transform="translate(595 925.60)" fill="#ff0000"/><use href="#s0" transform="translate(668 925.60)" fill="#ff0000"/><use href="#s18" transform="translate(741 925.60)" fill="#ff0000"/><use href="#s4" transform="translate(814 925.60)" fill="#ff0000"/><use href="#s16" transform="translate(887 925.60)" fill="#ff0000"/><use href="#s10" transform="translate(960 925.60)" fill="#ff0000"/><use href="#s8" transform="translate(1033 925.60)" fill="#ff0000"/><use href="#s17" transform="translate(1106 925.60)" fill="#ff0000"/><use href="#s10" transform="translate(1179 925.60)" fill="#ff0000"/><use href="#s22" transform="translate(1252 925.60)" fill="#ff0000"/><use href="#s4" transform="translate(1325 925.60)" fill="#ff0000"/><use href="#s6" transform="translate(1398 925.60)" fill="#ff0000"/><use href="#s3" transform="translate(1471 925.60)" fill="#ff0000"/><use href="#s11" transform="translate(1544 925.60)" fill="#ff0000"/><use href="#s12" transform="translate(1617 925.60)" fill="#ff0000"/><use href="#s0" transform="translate(230 948.48)" fill="#0000ff"/><use href="#s23" transform="translate(303 948.48)" fill="#0000ff"/><use href="#s13" transform="translate(376 948.48)" fill="#0000ff"/><use href="#s5" transform="translate(449 948.48)" fill="#0000ff"/><use href="#s11" transform="translate(522 948.48)" fill="#0000ff"/><use href="#s9" transform="translate(595 948.48)" fill="#0000ff"/><use href="#s19" transform="translate(668 948.48)" fill="#0000ff"/><use href="#s17" transform="translate(741 948.48)" fill="#0000ff"/><use href="#s12" transform="translate(814 948.48)" fill="#0000ff"/><use href="#s19" transform="translate(887 948.48)" fill="#0000ff"/><use href="#s15" transform="translate(960 948.48)" fill="#0000ff"/><use href="#s20" transform="translate(1033 948.48)" fill="#0000ff"/><use href="#s5" transform="translate(1106 948.48)" fill="#0000ff"/><use href="#s5" transform="translate(1179 948.48)" fill="#0000ff"/><use href="#s1" transform="translate(1252 948.48)" fill="#0000ff"/><use href="#s16" transform="translate(1325 948.48)" fill="#0000ff"/><use href="#s22" transform="translate(1398 948.48)" fill="#0000ff"/><use href="#s2" transform="translate(1471 948.48)" fill="#0000ff"/><use href="#s12" transform="translate(1544 948.48)" fill="#0000ff"/><use href="#s12" transform="translate(1617 948.48)" fill="#0000ff"/><use href="#s2" transform="translate(230 971.35)" fill="#008000"/><use href="#s5" transform="translate(303 971.35)" fill="#008000"/><use href="#s0" transform="translate(376 971.35)" fill="#008000"/><use href="#s9" transform="translate(449 971.35)" fill="#008000"/><use href="#s5" transform="translate(522 971.35)" fill="#008000"/><use href="#s8" transform="translate(595 971.35)" fill="#008000"/><use href="#s9" transform="translate(668 971.35)" fill="#008000"/><use href="#s7" transform="translate(741 971.35)" fill="#008000"/><use href="#s17" transform="translate(814 971.35)" fill="#008000"/><use href="#s20" transform="translate(887 971.35)" fill="#008000"/><use href="#s0" transform="translate(960 971.35)" fill="#008000"/><use href="#s3" transform="translate(1033 971.35)" fill="#008000"/><use href="#s19" transform="translate(1106 971.35)" fill="#008000"/><use href="#s4" transform="translate(1179 971.35)" fill="#008000"/><use href="#s13" transform="translate(1252 971.35)" fill="#008000"/><use href="#s20" transform="translate(1325 971.35)" fill="#008000"/><use href="#s5" transform="translate(1398 971.35)" fill="#008000"/><use href="#s19" transform="translate(1471 971.35)" fill="#008000"/><use href="#s5" transform="translate(1544 971.35)" fill="#008000"/><use href="#s23" transform="translate(1617 971.35)" fill="#008000"/><use href="#s21" transform="translate(230 994.23) scale(1 1.2)" fill="#000000"/><use href="#s19" transform="translate(303 994.23) scale(1 1.2)" fill="#000000"/><use href="#s12" transform="translate(376 994.23) scale(1 1.2)" fill="#000000"/><use href="#s9" transform="translate(449 994.23) scale(1 1.2)" fill="#000000"/><use href="#s11" transform="translate(522 994.23) scale(1 1.2)" fill="#000000"/><use href="#s0" transform="translate(595 994.23) scale(1 1.2)" fill="#000000"/><use href="#s19" transform="translate(668 994.23) scale(1 1.2)" fill="#000000"/><use href="#s1" transform="translate(741 994.23) scale(1 1.2)" fill="#000000"/><use href="#s23" transform="translate(814 994.23) scale(1 1.2)" fill="#000000"/><use href="#s8" transform="translate(887 994.23) scale(1 1.2)" fill="#000000"/><use href="#s17" transform="translate(960 994.23) scale(1 1.2)" fill="#000000"/><use href="#s2" transform="translate(1033 994.23) scale(1 1.2)" fill="#000000"/><use href="#s21" transform="translate(1106 994.23) scale(1 1.2)" fill="#000000"/><use href="#s3" transform="translate(1179 994.23) scale(1 1.2)" fill="#000000"/><use href="#s7" transform="translate(1252 994.23) scale(1 1.2)" fill="#000000"/><use href="#s9" transform="translate(1325 994.23) scale(1 1.2)" fill="#000000"/><use href="#s15" transform="translate(1398 994.23) scale(1 1.2)" fill="#000000"/><use href="#s11" transform="translate(1471 994.23) scale(1 1.2)" fill="#000000"/><use href="#s0" transform="translate(1544 994.23) scale(1 1.2)" fill="#000000"/><use href="#s14" transform="translate(1617 994.23) scale(1 1.2)" fill="#000000"/><use href="#s4" transform="translate(230 1017.11) scale(1 1.15)" fill="#ff0000"/><use href="#s21" transform="translate(303 1017.11) scale(1 1.15)" fill="#ff0000"/><use href="#s9" transform="translate(376 1017.11) scale(1 1.15)" fill="#ff0000"/><use href="#s5" transform="translate(449 1017.11) scale(1 1.15)" fill="#ff0000"/><use href="#s18" transform="translate(522 1017.11) scale(1 1.15)" fill="#ff0000"/><use href="#s21" transform="translate(595 1017.11) scale(1 1.15)" fill="#ff0000"/><use href="#s3" transform="translate(668 1017.11) scale(1 1.15)" fill="#ff0000"/><use href="#s2" transform="translate(741 1017.11) scale(1 1.15)" fill="#ff0000"/><use href="#s1" transform="translate(814 1017.11) scale(1 1.15)" fill="#ff0000"/><use href="#s10" transform="translate(887 1017.11) scale(1 1.15)" fill="#ff0000"/><use href="#s0" transform="translate(960 1017.11) scale(1 1.15)" fill="#ff0000"/><use href="#s21" transform="translate(1033 1017.11) scale(1 1.15)" fill="#ff0000"/><use href="#s13" transform="translate(1106 1017.11) scale(1 1.15)" fill="#ff0000"/><use href="#s19" transform="translate(1179 1017.11) scale(1 1.15)" fill="#ff0000"/><use href="#s7" transform="translate(1252 1017.11) scale(1 1.15)" fill="#ff0000"/><use href="#s20" transform="translate(1325 1017.11) scale(1 1.15)" fill="#ff0000"/><use href="#s9" transform="translate(1398 1017.11) scale(1 1.15)" fill="#ff0000"/><use href="#s4" transform="translate(1471 1017.11) scale(1 1.15)" fill="#ff0000"/><use href="#s13" transform="translate(1544 1017.11) scale(1 1.15)" fill="#ff0000"/><use href="#s4" transform="translate(1617 1017.11) scale(1 1.15)" fill="#ff0000"/><use href="#s23" transform="translate(230 1039.98) scale(1 1.08)" fill="#0000ff"/><use href="#s13" transform="translate(303 1039.98) scale(1 1.08)" fill="#0000ff"/><use href="#s12" transform="translate(376 1039.98) scale(1 1.08)" fill="#0000ff"/><use href="#s9" transform="translate(449 1039.98) scale(1 1.08)" fill="#0000ff"/><use href="#s3" transform="translate(522 1039.98) scale(1 1.08)" fill="#0000ff"/><use href="#s18" transform="translate(595 1039.98) scale(1 1.08)" fill="#0000ff"/><use href="#s20" transform="translate(668 1039.98) scale(1 1.08)" fill="#0000ff"/><use href="#s17" transform="translate(741 1039.98) scale(1 1.08)" fill="#0000ff"/><use href="#s2" transform="translate(814 1039.98) scale(1 1.08)" fill="#0000ff"/><use href="#s18" transform="translate(887 1039.98) scale(1 1.08)" fill="#0000ff"/><use href="#s14" transform="translate(960 1039.98) scale(1 1.08)" fill="#0000ff"/><svg x="1033" y="1019.98" width="2" height="40"><use href="#s16" transform="translate(0 20) scale(1 1.08)" fill="#0000ff"/></svg>
<path d="M397 73.8V82.2M810.7 73.8V90.5" stroke="#000000" stroke-width="1.8" fill="none"/><path d="M401.3 72.7V93.8" stroke="#000000" stroke-width="2" fill="none"/><path d="M798.5 75.8V83.9M799.5 76.0V82.7M800.5 75.2V85.5M801.5 75.9V84.1M802.5 76.0V83.7M803.5 75.4V83.1" stroke="#000000" stroke-width="1.05" fill="none"/><path d="M590.5 76.7V82.4M885.5 76.7V82.7M890.5 76.7V83.7M419.5 75.2V81.7M234.5 74.4V81.7M993.5 75.5V81.7M669.5 74.6V81.7M1640.5 76.0V81.7" stroke="#000000" stroke-width="1.6" fill="none"/><path d="M245 96.8V112.0M385.4 96.8V109.8" stroke="#ff0000" stroke-width="2" fill="none"/><path d="M270 97.5V106.5M284 97.5V106.5M508.5 97.5V106.5M545 92.5V106.0M1134 99.0V107.5M1182 98.5V106.8M1196 94.3V111.5M1261.5 93.7V108.5M1669 97.0V107.0" stroke="#ff0000" stroke-width="1.8" fill="none"/><path d="M1247.5 97.1V108.2M1248.5 98.8V105.2M1249.5 97.8V105.4M1250.5 98.8V105.4M1251.5 98.4V106.2M1252.5 98.8V107.8M1253.5 97.6V105.2M1254.5 98.8V107.6M1255.5 98.2V105.2M1256.5 98.8V105.2M1257.5 98.8V105.2M1258.5 98.8V107.0M1259.5 98.8V106.7M1260.5 98.8V105.8M1261.5 98.8V105.2M1262.5 98.8V105.2M1263.5 98.8V107.4M1625.5 95.8V108.5M1626.5 97.7V105.2M1627.5 98.8V105.5M1628.5 98.8V105.2M1629.5 98.8V105.2M1630.5 98.8V105.2M1631.5 98.8V105.2M1632.5 98.8V105.2M1633.5 98.8V105.2M1634.5 98.8V105.2M1635.5 98.8V105.2M1152.5 95.7V109.1M1153.5 95.6V110.0M1154.5 95.5V111.5M1155.5 97.7V110.7M1156.5 97.1V107.6M1157.5 96.3V110.4M1158.5 97.0V108.0M1159.5 98.8V105.4M1160.5 98.8V105.2M1161.5 98.8V105.6M1162.5 98.8V105.2M1163.5 98.8V105.2M1164.5 98.8V105.2M1165.5 98.8V105.2M1166.5 98.8V105.2M1167.5 98.8V105.2M1168.5 98.8V105.2M1169.5 98.8V105.2M1170.5 98.8V105.2M1171.5 98.8V105.2M1172.5 98.8V105.2" stroke="#ff0000" stroke-width="1.05" fill="none"/><path d="M1616 92.6V105.0M776.5 98.6V104.5M664.5 99.5V106.0M1440.5 98.8V104.5M756.5 99.5V105.1M1022.5 97.5V104.5M1008.5 99.5V106.5M1578.5 98.8V104.5M1438.5 97.8V104.5M1404.5 99.5V105.4M364.5 97.4V104.5M1103.5 97.8V104.5M586.5 98.3V104.5M1075.5 98.5V104.5M524.5 98.2V104.5M647.5 99.5V106.2M572.5 97.7V104.5M1115.5 99.5V105.8M547.5 99.5V105.5M1324.5 99.5V105.2M1379.5 99.5V106.5M1204.5 97.9V104.5M1468.5 99.5V106.1M1166.5 97.6V104.5M1019.5 97.5V104.5M1632.5 99.5V105.3M515.5 97.8V104.5M452.5 97.7V104.5M1550.5 99.5V105.3M1359.5 99.5V106.8M735.5 97.3V104.5M1440.5 99.5V105.3M925.5 99.5V105.5M470.5 99.5V106.0M1579.5 99.5V105.4M1506.5 98.3V104.5M718.5 98.7V104.5M880.5 99.5V106.3M1167.5 99.5V105.2M1336.5 98.0V104.5M1164.5 99.5V106.2" stroke="#ff0000" stroke-width="1.6" fill="none"/><path d="M553.5 94.3V108.4M555 98.5V108.0M557.3 96.1V107.6M568.75 95.9V106.3" stroke="#ff0000" stroke-width="1.5" fill="none"/><path d="M365.8 120.1V133.1M1238.5 111.0V136.5" stroke="#0000ff" stroke-width="2" fill="none"/><path d="M397.5 120.9V131.8M436 120.4V129.4M497 120.4V129.4M693 120.4V133.1M714 118.4V128.9" stroke="#0000ff" stroke-width="1.8" fill="none"/><path d="M828.5 121.7V129.8M829.5 121.7V129.2M830.5 120.9V130.3M831.5 121.7V128.7M832.5 121.3V130.1M833.5 121.7V130.3M834.5 121.7V128.2M937.5 118.1V128.9M938.5 117.7V128.8M939.5 117.8V129.5M940.5 115.3V131.1M941.5 117.2V130.6M942.5 116.4V131.0M943.5 118.2V130.2M944.5 116.3V129.0M945.5 117.6V129.4M1240.5 120.1V129.3M1241.5 121.7V128.1M1242.5 121.5V131.1M1243.5 121.7V128.4M1244.5 119.8V130.2M1245.5 119.8V134.6M1246.5 121.7V129.1M1247.5 120.3V128.6M1248.5 121.7V131.3M1249.5 121.7V130.8M1250.5 119.4V132.3M1251.5 121.7V129.0M1252.5 119.0V133.5M1253.5 121.7V129.2" stroke="#0000ff" stroke-width="1.05" fill="none"/><path d="M1290.5 121.3V127.4M364.5 122.4V128.5M1242.5 122.4V128.8M1577.5 120.4V127.4M1362.5 120.3V127.4M1581.5 122.4V129.7M1146.5 122.4V129.5M331.5 121.8V127.4M709.5 122.4V128.5M1171.5 121.6V127.4M1631.5 120.7V127.4M375.5 120.4V127.4M1456.5 122.4V129.3M1304.5 122.4V129.0M1539.5 122.4V129.6M267.5 122.4V129.2M566.5 122.4V128.8M1060.5 121.5V127.4M903.5 122.4V128.6M1037.5 121.1V127.4M1135.5 120.4V127.4M903.5 122.4V128.8M1671.5 122.4V128.0M1597.5 122.4V129.1M1326.5 121.5V127.4M271.5 121.6V127.4M325.5 122.4V128.4M272.5 120.3V127.4M504.5 122.4V128.1M993.5 122.4V128.5M1436.5 122.4V127.9M1162.5 120.1V127.4M434.5 120.9V127.4M1627.5 121.7V127.4M574.5 121.5V127.4" stroke="#0000ff" stroke-width="1.6" fill="none"/><path d="M278.8 141.8V150.8M764.5 141.8V151.3M772 144.3V153.1M1216 144.3V153.1M1237 144.3V156.2" stroke="#008000" stroke-width="1.8" fill="none"/><path d="M1144 140.4V153.8M486.5 143.0V150.3M944.5 145.3V151.5M737.5 144.6V150.3M1475.5 145.3V151.7M1583.5 143.2V150.3M1307.5 145.3V152.2M1059.5 143.2V150.3M453.5 144.6V150.3M1534.5 144.1V150.3M1189.5 145.3V151.1" stroke="#008000" stroke-width="1.6" fill="none"/><path d="M1334 144.3V164.1" stroke="#008000" stroke-width="2" fill="none"/><path d="M1419.5 140.9V155.9M1420.5 140.6V153.8M1421.5 140.4V156.8M1422.5 140.6V156.3M1423.5 142.9V156.5M1424.5 143.6V152.9M1140.5 143.3V151.5M1141.5 144.6V152.7M1142.5 144.6V151.0M1143.5 144.3V151.0M1144.5 144.6V151.0M1145.5 144.4V151.0M1146.5 144.6V151.0M1147.5 142.4V151.7M1148.5 144.3V151.0M1149.5 143.2V151.0M1150.5 144.6V151.0M1151.5 144.6V151.0M1152.5 144.6V151.0M1153.5 142.3V151.0M1154.5 143.2V151.0M1155.5 144.3V151.0M1156.5 144.6V151.0M1157.5 144.3V151.0M1158.5 144.6V151.0M1159.5 144.6V151.0M1160.5 144.6V151.4" stroke="#008000" stroke-width="1.05" fill="none"/><path d="M590 167.2V177.5M704.8 160.8V174.2M710.9 162.8V179.6M732.9 156.1V179.4" stroke="#000000" stroke-width="1.8" fill="none"/><path d="M701.7 167.2V176.5M746 167.2V176.7M749 166.2V174.2" stroke="#000000" stroke-width="1.5" fill="none"/><path d="M719.5 165.4V176.7M720.5 162.1V177.0M721.5 162.1V177.9M722.5 162.7V177.8M723.5 162.7V177.5M724.5 165.1V177.6M725.5 163.5V176.7M740.5 165.1V173.9M741.5 165.1V174.0M742.5 163.2V174.7M743.5 165.0V173.9M744.5 166.0V173.9M745.5 165.0V174.1" stroke="#000000" stroke-width="1.05" fill="none"/><path d="M1658.5 168.2V174.5M1473.5 166.3V173.2M717.5 167.0V173.2M922.5 168.2V174.9M312.5 166.8V173.2M379.5 168.2V174.2M770.5 167.4V173.2M314.5 167.0V173.2M1476.5 168.2V174.6M1609.5 168.2V174.5" stroke="#000000" stroke-width="1.6" fill="none"/><path d="M1403.5 189.1V196.0M1185.5 191.0V197.6M703.5 191.0V196.6M953.5 189.9V196.0" stroke="#ff0000" stroke-width="1.6" fill="none"/><path d="M306.5 213.3V218.9M554.5 213.9V219.4M572.5 212.7V218.9M786.5 213.9V220.5" stroke="#0000ff" stroke-width="1.6" fill="none"/><path d="M776.5 235.2V241.8M879.5 235.2V241.8M569.5 236.1V241.8M555.5 235.5V241.8" stroke="#008000" stroke-width="1.6" fill="none"/><path d="M570.5 259.7V266.9M377.5 257.5V264.7M558.5 257.6V264.7M502.5 259.7V265.6" stroke="#000000" stroke-width="1.6" fill="none"/><path d="M481.5 281.5V287.5M822.5 282.5V288.9M1198.5 282.5V288.6M1441.5 281.6V287.5" stroke="#ff0000" stroke-width="1.6" fill="none"/><path d="M1362.5 303.3V310.4M1670.5 305.4V312.5M495.5 305.4V311.6M953.5 304.0V310.4" stroke="#0000ff" stroke-width="1.6" fill="none"/><path d="M697.5 326.5V333.3M1387.5 328.3V335.3M1445.5 326.1V333.3M545.5 328.3V334.5" stroke="#008000" stroke-width="1.6" fill="none"/><path d="M520.5 351.2V357.5M1404.5 351.2V357.8M1120.5 351.2V357.3M440.5 349.6V356.2" stroke="#000000" stroke-width="1.6" fill="none"/><path d="M1238.5 374.1V381.2M961.5 372.4V379.1M1661.5 374.1V380.7M1577.5 373.3V379.1" stroke="#ff0000" stroke-width="1.6" fill="none"/><path d="M270.5 396.9V402.5M1071.5 396.9V403.8M387.5 395.0V401.9M476.5 396.3V401.9" stroke="#0000ff" stroke-width="1.6" fill="none"/><path d="M1336.6 415.7V425.8M1652.5 419.8V426.5M680.5 419.1V424.8M1331.5 418.0V424.8M820.5 417.8V424.8M1576.5 419.2V424.8M545.5 418.4V424.8M933.5 419.8V425.7M1664.5 419.8V426.3M1272.5 419.8V426.8M583.5 419.8V426.7" stroke="#008000" stroke-width="1.6" fill="none"/><path d="M1340.5 417.4V428.2M1341.5 416.8V428.7M1342.5 415.8V429.3M1343.5 418.1V427.6M1344.5 416.7V426.5M1345.5 416.4V428.2M1346.5 417.2V426.9M1359.5 419.1V427.0M1360.5 419.1V427.6M1361.5 418.3V426.8M1362.5 419.1V428.5M1363.5 418.1V429.4M1364.5 417.0V426.8M1365.5 419.0V425.6M1366.5 419.1V425.5M1367.5 419.1V427.2M1368.5 418.4V427.1M1587.5 416.3V433.1M1588.5 418.6V428.3M1589.5 419.1V426.8M1590.5 418.9V427.1M1591.5 419.1V426.4M1592.5 419.1V425.7M1593.5 419.1V425.5M1594.5 419.1V425.5M1595.5 419.1V425.5M1596.5 419.1V425.5M1597.5 419.1V425.5M1598.5 419.1V425.5M1599.5 419.1V425.5M1600.5 419.1V425.5M1601.5 418.2V425.5M1602.5 417.6V425.5M1603.5 418.1V425.5M1604.5 418.1V425.5M1605.5 419.1V425.5M1606.5 418.0V425.5M1607.5 419.1V425.5M1608.5 418.1V425.5M1609.5 417.7V425.5M1610.5 419.1V425.5M1611.5 419.1V425.5M1612.5 419.1V425.5M1613.5 418.7V425.5M1614.5 419.1V426.1M1615.5 419.1V426.2M1616.5 419.1V425.5M1617.5 419.1V425.5M1618.5 417.5V425.5M1619.5 417.8V425.8" stroke="#008000" stroke-width="1.05" fill="none"/><path d="M1347.2 409.3V437.9M1348.6 409.3V437.3M1350.2 409.3V435.7M1372.5 417.3V428.3M1380 418.8V427.9M1402.8 416.7V427.0M1412.8 407.9V425.8M1411 418.8V427.6" stroke="#008000" stroke-width="1.5" fill="none"/><path d="M1544 414.1V431.7" stroke="#008000" stroke-width="2.5" fill="none"/><path d="M460 441.7V452.8M661.8 436.6V450.2M722.6 435.2V449.2M729 435.2V454.2M758 437.8V452.2M803.8 436.8V450.8M1075.4 441.2V449.2M1087.6 435.2V450.8M1198 440.3V456.5M1234 439.8V453.2M1249.7 441.7V456.3M1332 437.2V456.8M1349.2 435.7V450.2" stroke="#000000" stroke-width="1.8" fill="none"/><path d="M603.9 441.0V449.5M656 441.0V449.5M668.9 439.7V450.2M706.5 439.4V450.5M708.8 441.7V450.5M1330.5 440.2V451.2M1334.5 440.2V452.2" stroke="#000000" stroke-width="1.5" fill="none"/><path d="M606.6 441.7V457.6M641.8 434.6V449.2M643.3 441.2V452.2M1040.4 440.8V460.6" stroke="#000000" stroke-width="2" fill="none"/><path d="M1192.5 442.0V448.4M1193.5 440.4V448.4M1194.5 442.0V448.4M1195.5 440.8V448.4M1196.5 442.0V448.9M1197.5 442.0V448.4M1198.5 442.0V448.4M1199.5 442.0V450.0M1200.5 442.0V449.0" stroke="#000000" stroke-width="1.05" fill="none"/><path d="M1351 441.2V453.0M884.5 441.0V447.7M1293.5 442.0V447.7M488.5 441.3V447.7M584.5 441.7V447.7M1041.5 442.7V448.7M1319.5 441.2V447.7M501.5 442.7V449.0M1310.5 440.9V447.7M402.5 442.7V448.3M1624.5 442.7V448.5M289.5 442.7V448.7M605.5 442.1V447.7M236.5 442.1V447.7M482.5 442.7V448.6M516.5 440.5V447.7M852.5 442.7V448.7M493.5 442.1V447.7M597.5 442.1V447.7M1533.5 442.7V449.5M1358.5 442.7V449.4M800.5 441.7V447.7M572.5 441.3V447.7M1389.5 442.7V448.7M1105.5 442.7V449.0M692.5 442.0V447.7" stroke="#000000" stroke-width="1.6" fill="none"/><path d="M369.4 461.6V476.8" stroke="#ff0000" stroke-width="2" fill="none"/><path d="M480.5 463.1V477.6" stroke="#ff0000" stroke-width="1.8" fill="none"/><path d="M478.5 464.9V471.3M479.5 464.9V471.3M480.5 464.9V471.3M481.5 464.0V471.3M482.5 464.9V471.3M483.5 464.9V471.8M484.5 464.9V472.6M485.5 463.1V471.3M486.5 464.3V472.0M487.5 464.9V472.5M1682.5 462.3V471.5M1683.5 461.1V472.2M1684.5 462.0V471.3M1685.5 460.1V472.6M1686.5 463.3V471.6M1687.5 462.9V471.5M1688.5 462.3V471.5M1689.5 463.1V471.4M1690.5 462.4V471.3" stroke="#ff0000" stroke-width="1.05" fill="none"/><path d="M1208.5 465.6V472.0M808.5 465.0V470.6M1041.5 464.5V470.6M1058.5 464.4V470.6M1305.5 465.0V470.6M898.5 465.6V472.3M1522.5 465.6V472.8M506.5 465.6V471.3M935.5 465.6V472.0M1339.5 465.6V472.1M713.5 465.6V472.1M978.5 465.6V471.2M1119.5 464.8V470.6M758.5 465.6V471.9M1584.5 464.1V470.6" stroke="#ff0000" stroke-width="1.6" fill="none"/><path d="M531.5 487.1V494.8M532.5 487.7V495.4M533.5 487.7V496.8M534.5 486.9V497.8M535.5 487.0V497.6M536.5 487.7V497.1M537.5 487.4V497.8M538.5 487.2V495.5M539.5 487.7V497.5M796.5 487.7V497.8M797.5 485.5V497.0M798.5 487.7V494.1M799.5 485.9V494.2M800.5 487.7V494.1M801.5 487.4V496.4M802.5 487.5V494.1M803.5 487.4V497.8M804.5 485.5V497.7M805.5 487.7V495.3M806.5 487.7V495.1M807.5 487.7V496.8M808.5 485.3V494.1M809.5 487.7V497.1M810.5 487.7V497.3M811.5 487.7V496.9M812.5 487.7V495.1M813.5 487.7V494.1M814.5 486.6V494.1M815.5 485.3V496.8M816.5 487.7V494.2M817.5 487.7V494.9M818.5 487.7V494.1M819.5 486.5V497.5M820.5 487.7V495.1" stroke="#0000ff" stroke-width="1.05" fill="none"/><path d="M556.7 485.8V497.8M1129 487.4V496.1M1360 487.4V495.9" stroke="#0000ff" stroke-width="1.8" fill="none"/><path d="M818 487.4V497.8" stroke="#0000ff" stroke-width="1.5" fill="none"/><path d="M262.5 488.4V494.5M813.5 488.4V494.7M642.5 488.4V494.0M339.5 487.8V493.4M307.5 487.8V493.4M947.5 487.1V493.4M848.5 488.4V494.0M521.5 488.4V495.4M1597.5 488.4V494.5M854.5 487.5V493.4M1137.5 487.6V493.4M937.5 487.2V493.4M574.5 487.7V493.4M981.5 488.4V494.2M1291.5 488.4V494.2M1505.5 488.4V494.1M638.5 488.4V494.0M306.5 488.4V494.3M1133.5 487.4V493.4M771.5 488.4V494.2M250.5 487.3V493.4M514.5 488.4V494.8M1486.5 486.4V493.4M235.5 487.3V493.4M1361.5 487.5V493.4" stroke="#0000ff" stroke-width="1.6" fill="none"/><path d="M776 510.3V518.2" stroke="#008000" stroke-width="1.8" fill="none"/><path d="M1037 505.5V516.8M1253.8 501.0V517.3M1471.5 510.1V516.3M597.5 511.3V517.0M1347.5 509.1V516.3M396.5 511.3V517.3M840.5 510.1V516.3M661.5 511.3V517.7M949.5 509.7V516.3M924.5 511.3V517.3M914.5 511.3V517.9M1521.5 509.4V516.3M1225.5 511.3V517.1M533.5 509.3V516.3" stroke="#008000" stroke-width="1.6" fill="none"/><path d="M1248.9 510.3V520.3M1252.5 507.8V517.3M1255.1 510.3V522.4" stroke="#008000" stroke-width="1.5" fill="none"/><path d="M1317.5 510.5V518.0M1318.5 509.9V517.6M1319.5 509.5V517.8M1320.5 508.4V520.8M1321.5 505.5V521.2M1322.5 504.5V523.8M1323.5 500.2V527.8M1324.5 503.5V524.4M1325.5 505.5V521.2M1326.5 507.6V519.5M1327.5 510.2V518.4M1328.5 509.9V517.7M1329.5 510.3V517.6" stroke="#008000" stroke-width="1.05" fill="none"/><path d="M253 532.2V539.7M791 533.2V540.8M1331 533.2V542.8M1566.5 527.8V545.1" stroke="#000000" stroke-width="1.8" fill="none"/><path d="M1207.5 533.5V539.9M1208.5 533.2V541.8M1209.5 533.5V540.1M1210.5 533.5V540.6M1211.5 533.5V539.9" stroke="#000000" stroke-width="1.05" fill="none"/><path d="M1671.5 532.3V544.8M1676.5 531.8V544.2M524.5 534.2V539.7M1624.5 534.2V541.4M1204.5 534.2V541.5M418.5 533.6V539.2M1543.5 533.6V539.2M1078.5 532.4V539.2M1460.5 534.2V540.1M758.5 533.4V539.2M520.5 534.2V541.5M881.5 532.3V539.2M886.5 532.6V539.2M1415.5 533.4V539.2M1334.5 532.6V539.2M1659.5 532.3V539.2M516.5 534.2V541.0" stroke="#000000" stroke-width="1.6" fill="none"/><path d="M1674 533.2V542.7" stroke="#000000" stroke-width="1.5" fill="none"/><path d="M620 556.1V563.8M1486.6 555.6V563.6" stroke="#ff0000" stroke-width="1.8" fill="none"/><path d="M662 551.8V562.6M944.5 557.1V563.3M374.5 557.1V563.5M539.5 557.1V564.1M256.5 556.5V562.1M790.5 555.4V562.1M734.5 556.4V562.1M588.5 556.4V562.1M1030.5 557.1V563.8M1434.5 557.1V563.5M1061.5 557.1V563.8M386.5 555.5V562.1M797.5 557.1V563.8M927.5 555.2V562.1M887.5 556.1V562.1M562.5 555.5V562.1" stroke="#ff0000" stroke-width="1.6" fill="none"/><path d="M971.5 554.2V567.8M972.5 555.9V563.8M973.5 556.4V563.4M974.5 556.4V563.2M975.5 556.4V562.8M976.5 556.4V562.8M977.5 556.4V562.8M978.5 556.4V562.8M979.5 556.4V562.8" stroke="#ff0000" stroke-width="1.05" fill="none"/><path d="M1070.5 553.2V569.0M1074 554.6V568.6" stroke="#ff0000" stroke-width="1.5" fill="none"/><path d="M700 571.5V588.4M705 572.4V588.4M959 577.9V585.4" stroke="#0000ff" stroke-width="1.8" fill="none"/><path d="M1225 575.4V586.4M1309 576.3V586.4M1380.5 579.4V584.9M1625.5 579.9V585.7M315.5 579.9V586.0M938.5 579.9V586.1M1078.5 578.8V584.9M836.5 579.9V586.5M1569.5 578.4V584.9M1112.5 578.8V584.9M252.5 579.9V586.5M1374.5 578.2V584.9M967.5 579.2V584.9M283.5 579.9V585.6M1559.5 578.5V584.9M1427.5 579.9V585.8M503.5 579.2V584.9M246.5 579.3V584.9M1132.5 579.2V584.9M953.5 579.9V586.7M406.5 579.9V585.9M701.5 579.9V586.9" stroke="#0000ff" stroke-width="1.6" fill="none"/><path d="M296.5 600.3V610.3" stroke="#008000" stroke-width="1.8" fill="none"/><path d="M687.5 602.8V610.0M1255.5 602.8V609.2M257.5 602.8V608.3M875.5 601.7V607.8" stroke="#008000" stroke-width="1.6" fill="none"/><path d="M246 617.8V633.2M1331 624.2V632.2M1352 618.4V635.8M1471.8 623.5V639.8" stroke="#000000" stroke-width="1.8" fill="none"/><path d="M1096.5 615.4V642.2M1344 614.0V637.5" stroke="#000000" stroke-width="2" fill="none"/><path d="M404.5 624.6V630.7M575.5 623.9V630.7M952.5 625.7V631.9M596.5 624.1V630.7M584.5 625.7V631.9M355.5 623.8V630.7M575.5 624.7V630.7M899.5 623.7V630.7M689.5 624.0V630.7M562.5 623.8V630.7M1333.5 625.0V630.7M822.5 625.7V631.5M1559.5 624.6V630.7M1401.5 623.9V630.7M1360.5 625.7V632.5" stroke="#000000" stroke-width="1.6" fill="none"/><path d="M238 640.4V662.4M254.6 645.4V661.2" stroke="#ff0000" stroke-width="2" fill="none"/><path d="M258.5 646.1V654.1M1555.5 647.6V655.8" stroke="#ff0000" stroke-width="1.8" fill="none"/><path d="M1507.8 646.5V658.0M1507.5 648.6V654.9M1158.5 648.6V654.9M1367.5 648.6V654.9M1279.5 646.5V653.6M1589.5 648.6V655.2M1336.5 646.7V653.6M445.5 647.2V653.6M1178.5 647.2V653.6M1023.5 648.6V655.8M811.5 647.6V653.6M1248.5 647.9V653.6M1454.5 648.6V654.2M1632.5 648.6V655.4M1127.5 646.8V653.6M358.5 647.1V653.6" stroke="#ff0000" stroke-width="1.6" fill="none"/><path d="M487.5 671.0V679.6M498.75 671.0V680.3M499.5 667.0V677.0M508.5 671.0V680.6M513.5 667.5V677.0M1475 665.2V679.0" stroke="#0000ff" stroke-width="1.5" fill="none"/><path d="M490.5 670.8V677.2M491.5 670.8V677.2M492.5 670.8V678.3M493.5 670.8V677.2M494.5 670.8V677.2M495.5 670.2V678.3M496.5 670.8V677.6M497.5 670.8V677.2M498.5 669.8V677.2M499.5 670.8V677.2M500.5 670.8V677.2M501.5 670.8V677.2M502.5 669.7V677.3M503.5 670.8V677.2M504.5 669.7V677.2M505.5 670.8V677.2M506.5 670.8V677.2M507.5 670.8V677.2M508.5 670.8V677.2M509.5 670.8V677.2M510.5 670.8V678.2M511.5 670.8V677.2M512.5 670.7V677.2M1469.5 669.1V677.2M1470.5 670.7V677.2M1471.5 667.5V677.2M1472.5 670.8V677.2M1473.5 666.3V678.9M1474.5 667.5V677.2M1475.5 666.3V677.2M1476.5 668.4V678.3M1477.5 666.5V679.7M1478.5 669.0V677.2M1479.5 665.6V677.2M1480.5 666.1V677.7M1481.5 670.0V677.4M1482.5 670.4V677.2M1483.5 670.8V677.2M1629.5 670.8V677.2M1630.5 670.8V677.2M1631.5 670.6V677.4M1632.5 668.9V679.5M1633.5 667.9V681.7M1634.5 666.7V682.5M1635.5 668.5V679.2M1636.5 670.5V678.1M1637.5 670.8V677.2M1638.5 670.8V677.2" stroke="#0000ff" stroke-width="1.05" fill="none"/><path d="M1322.7 669.0V681.9M946.5 669.7V676.5M1676.5 671.5V678.2M841.5 670.6V676.5M1553.5 671.5V678.3M1030.5 669.8V676.5M586.5 671.5V677.9M1476.5 671.5V677.5M1169.5 671.5V678.5M498.5 670.6V676.5M1026.5 671.5V678.6M972.5 669.6V676.5M1197.5 671.5V678.5M706.5 671.5V678.7M1096.5 670.3V676.5M424.5 671.5V677.1M280.5 669.3V676.5M962.5 670.5V676.5M571.5 670.4V676.5M1156.5 669.4V676.5M1502.5 670.9V676.5M250.5 671.5V678.6M776.5 669.2V676.5M1067.5 670.0V676.5M1452.5 671.5V677.5M271.5 671.5V678.6" stroke="#0000ff" stroke-width="1.6" fill="none"/><path d="M242 693.3V704.3M329.5 693.3V705.6M1630.5 694.3V699.9M1494.5 692.9V699.3M1186.5 692.5V699.3M1016.5 692.8V699.3M937.5 694.3V700.3M463.5 694.3V701.1M1156.5 692.1V699.3M730.5 694.3V700.6M1600.5 694.3V700.9M1222.5 694.3V701.6M266.5 692.3V699.3M607.5 694.3V700.6M1555.5 694.3V701.6M1453.5 694.3V700.1M829.5 694.3V700.9M267.5 694.3V699.9M1074.5 693.5V699.3M622.5 694.3V700.2M1494.5 692.6V699.3M1580.5 694.3V700.9" stroke="#008000" stroke-width="1.6" fill="none"/><path d="M370 693.3V709.4M461.5 674.8V723.3M467.8 677.8V707.8M626 691.6V711.4" stroke="#008000" stroke-width="2" fill="none"/><path d="M459.5 691.2V707.9M460.5 686.8V709.3M461.5 689.7V705.8M482.5 691.4V700.4M483.5 692.9V702.2M484.5 690.8V703.3M485.5 692.0V702.3M486.5 691.7V700.9M487.5 691.3V700.5M1076.5 693.6V700.0M1077.5 693.6V700.0M1078.5 693.6V700.0M1079.5 693.6V700.0M1080.5 693.6V700.0M1081.5 693.6V700.0M1082.5 693.6V700.0M1083.5 693.6V700.3M1084.5 692.4V700.3M1085.5 692.7V701.7M1086.5 691.3V702.3M1087.5 692.4V701.7M1088.5 692.9V701.2M1089.5 693.3V700.0M1090.5 693.6V700.1M1091.5 693.6V700.0M1092.5 693.6V700.0M1093.5 693.6V700.0M1094.5 693.6V700.0M1095.5 693.6V700.0M1096.5 693.6V700.0" stroke="#008000" stroke-width="1.05" fill="none"/><path d="M464.5 691.8V705.3M471.5 692.3V699.8M480.5 690.1V700.3M516 693.8V701.3" stroke="#008000" stroke-width="1.5" fill="none"/><path d="M1509.9 714.9V730.4" stroke="#000000" stroke-width="2.2" fill="none"/><path d="M1518.2 715.8V739.0M1552.2 699.0V729.7" stroke="#000000" stroke-width="2" fill="none"/><path d="M1530.7 714.0V725.7M1537.9 716.2V725.7M1550.5 704.2V729.7M1561.7 712.1V723.7M1564.6 716.2V725.4M1567.6 716.2V724.5" stroke="#000000" stroke-width="1.5" fill="none"/><path d="M1535.9 713.8V728.5M1559.5 709.7V726.3" stroke="#000000" stroke-width="1.8" fill="none"/><path d="M1540.5 714.4V723.0M1541.5 713.0V724.5M1542.5 715.8V724.3M1543.5 714.0V723.2M1544.5 716.0V724.1" stroke="#000000" stroke-width="1.05" fill="none"/><path d="M473.5 717.2V722.9M1522.5 715.8V722.2M986.5 715.7V722.2M840.5 716.6V722.2" stroke="#000000" stroke-width="1.6" fill="none"/><path d="M558.5 738.9V745.1M723.5 740.1V746.7M311.5 740.1V746.3M885.5 740.1V746.5" stroke="#ff0000" stroke-width="1.6" fill="none"/><path d="M590.5 763.0V769.1M328.5 763.0V768.7M933.5 761.6V768.0M1416.5 761.2V768.0" stroke="#0000ff" stroke-width="1.6" fill="none"/><path d="M1149.5 785.8V791.4M1441.5 784.2V790.8M1037.5 785.8V792.4M1191.5 785.8V792.6" stroke="#008000" stroke-width="1.6" fill="none"/><path d="M753 805.3V814.2" stroke="#000000" stroke-width="1.8" fill="none"/><path d="M1145.5 807.9V813.7M777.5 808.7V815.9M490.5 806.6V813.7M499.5 807.5V813.7" stroke="#000000" stroke-width="1.6" fill="none"/><path d="M883.5 829.3V836.6M930.5 831.6V837.7M547.5 831.6V837.2M889.5 829.4V836.6" stroke="#ff0000" stroke-width="1.6" fill="none"/><path d="M1063.5 854.0V859.5M428.5 852.7V859.5M361.5 854.5V860.5M367.5 853.5V859.5" stroke="#0000ff" stroke-width="1.6" fill="none"/><path d="M1649.5 875.6V882.3M463.5 876.3V882.3M895.5 876.7V882.3M1160.5 877.3V884.2" stroke="#008000" stroke-width="1.6" fill="none"/><path d="M727.5 898.1V905.2M1004.5 899.2V905.2M374.5 900.2V906.1M631.5 900.2V905.9" stroke="#000000" stroke-width="1.6" fill="none"/><path d="M819.5 923.1V929.7M1428.5 921.2V928.1M595.5 922.0V928.1M453.5 921.7V928.1" stroke="#ff0000" stroke-width="1.6" fill="none"/><path d="M1380.5 944.5V951.0M726.5 943.7V951.0M499.5 946.0V951.7M1118.5 946.0V953.0" stroke="#0000ff" stroke-width="1.6" fill="none"/><path d="M1264.5 966.9V973.9M1017.5 968.9V975.0M1168.5 967.6V973.9M954.5 968.9V975.3" stroke="#008000" stroke-width="1.6" fill="none"/><path d="M245.5 987.9V998.2M247.7 990.7V1002.9M248.8 985.4V997.7M252 986.9V999.2M255.4 975.9V1008.0M275 989.2V1003.7M288.2 990.4V997.2M324.6 989.7V998.7M337.4 988.3V998.2M344 988.3V998.2M713 990.7V1000.8M719.6 990.7V1002.1M753 988.2V1000.8M775 987.4V1000.2M818 987.6V997.7M829 989.2V998.2M863 990.7V1003.4M911.7 987.6V1002.1M925 985.1V1000.2M960 987.6V1000.2M981.5 987.6V997.7M989 987.7V997.7M1027.7 988.7V1000.2M1095 990.7V1000.8M1131 989.2V1001.6M1182.5 985.6V999.2M1223.7 990.7V999.2M1262.7 985.8V997.7M1299 986.3V999.7M1306.6 990.7V1002.4M1371.7 986.8V999.2" stroke="#000000" stroke-width="1.5" fill="none"/><path d="M257.2 975.2V1013.9M330 986.9V1005.5" stroke="#000000" stroke-width="1.8" fill="none"/><path d="M270.5 991.0V999.1M271.5 990.9V997.4M272.5 990.3V997.4M273.5 990.4V997.4M274.5 991.0V997.4M275.5 990.4V997.4M276.5 991.0V1000.0M277.5 990.7V997.4M278.5 987.2V1000.1M279.5 987.3V997.4M280.5 990.7V997.4M712.5 991.0V999.4M713.5 990.7V1000.8M714.5 991.0V1000.0M718.5 990.9V999.1M719.5 990.7V1002.1M720.5 991.0V1002.0M721.5 990.9V1000.7M752.5 989.7V1000.2M753.5 988.2V1000.8M754.5 990.2V999.6M774.5 987.5V999.3M775.5 987.4V1000.2M776.5 990.0V999.6M816.5 990.6V997.4M817.5 987.6V997.7M818.5 989.3V997.4M819.5 989.6V997.6M820.5 988.5V997.6M828.5 991.0V997.4M829.5 989.2V998.2M830.5 991.0V997.4M862.5 991.0V1001.1M863.5 990.7V1003.4M864.5 990.9V1002.2M910.5 989.8V1001.3M911.5 987.6V1002.1M912.5 989.8V1000.5M913.5 989.9V998.6M924.5 989.1V998.5M925.5 985.1V1000.2M926.5 987.1V1000.1M958.5 988.0V998.0M959.5 987.6V1000.2M960.5 987.9V997.6M961.5 989.7V998.1M962.5 990.1V999.3M980.5 989.6V997.4M981.5 987.6V997.7M982.5 988.0V997.5M983.5 988.8V997.6M988.5 988.0V997.5M989.5 987.7V997.7M990.5 987.9V997.4M1026.5 989.3V997.9M1027.5 988.7V1000.2M1028.5 991.0V998.5M1029.5 989.7V999.7M1094.5 991.0V999.0M1095.5 990.7V1000.8M1096.5 991.0V998.7M1130.5 989.3V998.7M1131.5 989.2V1001.6M1132.5 990.5V1001.0M1181.5 985.9V997.4M1182.5 985.6V999.2M1183.5 988.8V998.6M1184.5 988.0V998.7M1222.5 991.0V997.4M1223.5 990.7V999.2M1224.5 991.0V997.4M1225.5 991.0V998.9M1261.5 989.3V997.4M1262.5 985.8V997.7M1263.5 988.6V997.4M1264.5 988.4V997.4M1298.5 988.8V999.4M1299.5 986.3V999.7M1300.5 988.8V999.2M1305.5 991.0V998.9M1306.5 990.7V1002.4M1307.5 991.0V999.4M1308.5 990.8V1002.0M1370.5 989.9V998.7M1371.5 986.8V999.2M1372.5 988.2V998.8M1373.5 988.8V997.4M324.5 989.5V997.4M325.5 990.3V998.6M326.5 991.0V997.4M327.5 991.0V997.4M328.5 991.0V997.4M329.5 991.0V998.7M330.5 991.0V997.4M331.5 991.0V997.4M332.5 991.0V998.4M333.5 989.3V997.4M334.5 991.0V998.0M335.5 991.0V997.4M336.5 990.2V997.4M337.5 991.0V998.2M338.5 991.0V997.4M339.5 989.3V997.4M340.5 991.0V997.4M341.5 991.0V997.4M342.5 990.0V997.4M343.5 991.0V997.4M344.5 989.7V997.4M345.5 990.1V997.4M346.5 991.0V998.5" stroke="#000000" stroke-width="1.05" fill="none"/><path d="M967 990.7V1012.2" stroke="#000000" stroke-width="2" fill="none"/><path d="M1643.5 989.7V996.7M1448.5 991.7V997.3M1574.5 991.7V998.2M1266.5 991.7V998.8M669.5 991.7V999.0M544.5 991.7V997.4M903.5 990.1V996.7M1352.5 989.5V996.7M407.5 991.7V999.0M759.5 990.0V996.7M896.5 991.7V997.7M1494.5 991.7V997.5M685.5 991.7V998.1M498.5 989.9V996.7M1416.5 991.7V998.1M678.5 989.9V996.7M1516.5 990.4V996.7M1584.5 991.7V997.5M757.5 991.7V998.7M1537.5 991.7V998.0M1618.5 989.7V996.7M310.5 991.7V998.4M745.5 991.7V998.0M333.5 989.5V996.7M578.5 991.2V996.7M1597.5 990.0V996.7M1425.5 991.7V997.6M1131.5 990.7V996.7M1492.5 991.7V997.6M1513.5 991.7V998.7" stroke="#000000" stroke-width="1.6" fill="none"/><path d="M490.7 1012.3V1022.4M696 1013.6V1024.1M702.6 1012.1V1022.6M745.5 1012.3V1020.1M1359 1011.3V1020.1" stroke="#ff0000" stroke-width="1.8" fill="none"/><path d="M679.8 1011.8V1028.8M1560.6 1008.0V1022.0" stroke="#ff0000" stroke-width="2" fill="none"/><path d="M1483.5 1013.1V1020.9M1484.5 1013.4V1022.4M1485.5 1011.8V1023.3M1486.5 1012.9V1021.0M1487.5 1012.5V1022.5M1488.5 1013.5V1022.7M1489.5 1011.8V1021.2M1558.5 1012.3V1020.3M1559.5 1012.2V1020.3M1560.5 1011.1V1022.1M1561.5 1013.6V1020.6M1562.5 1012.8V1020.3M1563.5 1012.4V1021.7M1564.5 1011.2V1022.0M1565.5 1013.1V1020.3" stroke="#ff0000" stroke-width="1.05" fill="none"/><path d="M1486 1011.8V1023.3" stroke="#ff0000" stroke-width="1.5" fill="none"/><path d="M988.5 1014.6V1020.5M624.5 1014.6V1020.5M1422.5 1014.6V1021.8M640.5 1013.0V1019.6M657.5 1014.6V1020.1M1141.5 1014.6V1020.7M1687.5 1014.6V1020.2M980.5 1014.6V1021.5M561.5 1014.6V1020.5M1044.5 1012.7V1019.6M1177.5 1014.6V1021.1M745.5 1014.6V1021.5M1412.5 1014.6V1020.4M792.5 1014.6V1021.0M260.5 1014.6V1020.9M1370.5 1013.5V1019.6M907.5 1014.6V1020.2M1495.5 1014.6V1020.7M976.5 1014.1V1019.6M295.5 1013.9V1019.6M1238.5 1014.6V1021.4M1043.5 1014.0V1019.6M506.5 1014.0V1019.6M1683.5 1013.0V1019.6M1343.5 1014.6V1021.1" stroke="#ff0000" stroke-width="1.6" fill="none"/><path d="M894 1031.3V1044.0M913 1028.8V1044.5" stroke="#0000ff" stroke-width="2.2" fill="none"/><path d="M890.5 1036.3V1043.6M891.5 1036.5V1043.2M892.5 1035.0V1044.0M893.5 1036.2V1043.2M894.5 1036.8V1043.2M895.5 1036.6V1043.2M896.5 1036.6V1043.2M897.5 1036.3V1043.9M910.5 1035.8V1043.2M911.5 1036.2V1043.2M912.5 1034.0V1044.5M913.5 1035.3V1043.2M914.5 1035.7V1043.2M915.5 1035.4V1043.2M916.5 1034.6V1043.2" stroke="#0000ff" stroke-width="1.05" fill="none"/><path d="M560.5 1036.8V1042.5M459.5 1037.5V1044.3M592.5 1035.9V1042.5M1006.5 1037.5V1043.3M766.5 1035.2V1042.5M856.5 1037.5V1043.1M428.5 1037.0V1042.5M962.5 1036.5V1042.5" stroke="#0000ff" stroke-width="1.6" fill="none"/>
<polygon points="1685.00,437.10 1686.50,441.73 1691.37,441.73 1687.43,444.59 1688.94,449.22 1685.00,446.36 1681.06,449.22 1682.57,444.59 1678.63,441.73 1683.50,441.73" fill="#ffff00" stroke="#ffff00" stroke-width="1.39" stroke-miterlimit="4"/><polygon points="581.50,941.10 583.00,945.73 587.87,945.73 583.93,948.59 585.44,953.22 581.50,950.36 577.56,953.22 579.07,948.59 575.13,945.73 580.00,945.73" fill="#ffff00" stroke="#ffff00" stroke-width="1.39" stroke-miterlimit="4"/><polygon points="1631.30,940.90 1632.80,945.53 1637.67,945.53 1633.73,948.39 1635.24,953.02 1631.30,950.16 1627.36,953.02 1628.87,948.39 1624.93,945.53 1629.80,945.53" fill="#ffff00" stroke="#ffff00" stroke-width="1.39" stroke-miterlimit="4"/>
</g>
<path d="M1546.3 475.1 C1575 479.5 1630 476 1679 448" fill="none" stroke="#000" stroke-width="1.3"/><path d="M588.9 942.3 C630 918 665 910 720 915.5" fill="none" stroke="#000" stroke-width="1.3"/><path d="M1492.4 916.3 C1540 910 1590 917 1623 941.8" fill="none" stroke="#000" stroke-width="1.3"/><rect x="1256.7" y="462.8" width="286.9" height="22.3" rx="3" ry="3" fill="#fff" fill-opacity="0.6" stroke="#000" stroke-opacity="0.55" stroke-width="1.1"/><text x="1261.0" y="477.8" font-family="DejaVu Sans, Liberation Sans, sans-serif" font-size="13.89" fill="#000">NEW IRELAND REGION, P.N.G., 6.0 mww</text><rect x="722.9" y="906.4" width="125.6" height="21.6" rx="3" ry="3" fill="#fff" fill-opacity="0.6" stroke="#000" stroke-opacity="0.55" stroke-width="1.1"/><text x="727.0" y="920.7" font-family="DejaVu Sans, Liberation Sans, sans-serif" font-size="13.89" fill="#000">NEVADA, 3.3 mw</text><rect x="1363.4" y="906.4" width="125.2" height="21.6" rx="3" ry="3" fill="#fff" fill-opacity="0.6" stroke="#000" stroke-opacity="0.55" stroke-width="1.1"/><text x="1367.6" y="920.7" font-family="DejaVu Sans, Liberation Sans, sans-serif" font-size="13.89" fill="#000">NEVADA, 3.7 mw</text>
<rect x="230.5" y="60.5" width="1460" height="1020" fill="none" stroke="#000" stroke-width="1.11"/>
<g stroke="#000" stroke-width="1.11"><line x1="225.1" y1="78.50" x2="230.5" y2="78.50"/><line x1="225.1" y1="101.50" x2="230.5" y2="101.50"/><line x1="225.1" y1="124.50" x2="230.5" y2="124.50"/><line x1="225.1" y1="147.50" x2="230.5" y2="147.50"/><line x1="225.1" y1="170.50" x2="230.5" y2="170.50"/><line x1="225.1" y1="193.50" x2="230.5" y2="193.50"/><line x1="225.1" y1="216.50" x2="230.5" y2="216.50"/><line x1="225.1" y1="238.50" x2="230.5" y2="238.50"/><line x1="225.1" y1="261.50" x2="230.5" y2="261.50"/><line x1="225.1" y1="284.50" x2="230.5" y2="284.50"/><line x1="225.1" y1="307.50" x2="230.5" y2="307.50"/><line x1="225.1" y1="330.50" x2="230.5" y2="330.50"/><line x1="225.1" y1="353.50" x2="230.5" y2="353.50"/><line x1="225.1" y1="376.50" x2="230.5" y2="376.50"/><line x1="225.1" y1="399.50" x2="230.5" y2="399.50"/><line x1="225.1" y1="421.50" x2="230.5" y2="421.50"/><line x1="225.1" y1="444.50" x2="230.5" y2="444.50"/><line x1="225.1" y1="467.50" x2="230.5" y2="467.50"/><line x1="225.1" y1="490.50" x2="230.5" y2="490.50"/><line x1="225.1" y1="513.50" x2="230.5" y2="513.50"/><line x1="225.1" y1="536.50" x2="230.5" y2="536.50"/><line x1="225.1" y1="559.50" x2="230.5" y2="559.50"/><line x1="225.1" y1="582.50" x2="230.5" y2="582.50"/><line x1="225.1" y1="604.50" x2="230.5" y2="604.50"/><line x1="225.1" y1="627.50" x2="230.5" y2="627.50"/><line x1="225.1" y1="650.50" x2="230.5" y2="650.50"/><line x1="225.1" y1="673.50" x2="230.5" y2="673.50"/><line x1="225.1" y1="696.50" x2="230.5" y2="696.50"/><line x1="225.1" y1="719.50" x2="230.5" y2="719.50"/><line x1="225.1" y1="742.50" x2="230.5" y2="742.50"/><line x1="225.1" y1="765.50" x2="230.5" y2="765.50"/><line x1="225.1" y1="787.50" x2="230.5" y2="787.50"/><line x1="225.1" y1="810.50" x2="230.5" y2="810.50"/><line x1="225.1" y1="833.50" x2="230.5" y2="833.50"/><line x1="225.1" y1="856.50" x2="230.5" y2="856.50"/><line x1="225.1" y1="879.50" x2="230.5" y2="879.50"/><line x1="225.1" y1="902.50" x2="230.5" y2="902.50"/><line x1="225.1" y1="925.50" x2="230.5" y2="925.50"/><line x1="225.1" y1="948.50" x2="230.5" y2="948.50"/><line x1="225.1" y1="970.50" x2="230.5" y2="970.50"/><line x1="225.1" y1="993.50" x2="230.5" y2="993.50"/><line x1="225.1" y1="1016.50" x2="230.5" y2="1016.50"/><line x1="225.1" y1="1039.50" x2="230.5" y2="1039.50"/><line x1="225.1" y1="1062.50" x2="230.5" y2="1062.50"/><line x1="230.5" y1="1080" x2="230.5" y2="1085.4"/><line x1="595.5" y1="1080" x2="595.5" y2="1085.4"/><line x1="960.5" y1="1080" x2="960.5" y2="1085.4"/><line x1="1325.5" y1="1080" x2="1325.5" y2="1085.4"/><line x1="1690.5" y1="1080" x2="1690.5" y2="1085.4"/></g>
<g font-family="DejaVu Sans, Liberation Sans, sans-serif" font-size="11.11" text-anchor="end" fill="#000"><text x="219.6" y="82.35" textLength="48.4" lengthAdjust="spacing">00:00:04</text><text x="219.6" y="105.35" textLength="48.4" lengthAdjust="spacing">01:00:04</text><text x="219.6" y="128.35" textLength="48.4" lengthAdjust="spacing">02:00:04</text><text x="219.6" y="151.35" textLength="48.4" lengthAdjust="spacing">03:00:04</text><text x="219.6" y="174.35" textLength="48.4" lengthAdjust="spacing">04:00:04</text><text x="219.6" y="197.35" textLength="48.4" lengthAdjust="spacing">05:00:04</text><text x="219.6" y="220.35" textLength="48.4" lengthAdjust="spacing">06:00:04</text><text x="219.6" y="242.35" textLength="48.4" lengthAdjust="spacing">07:00:04</text><text x="219.6" y="265.35" textLength="48.4" lengthAdjust="spacing">08:00:04</text><text x="219.6" y="288.35" textLength="48.4" lengthAdjust="spacing">09:00:04</text><text x="219.6" y="311.35" textLength="48.4" lengthAdjust="spacing">10:00:04</text><text x="219.6" y="334.35" textLength="48.4" lengthAdjust="spacing">11:00:04</text><text x="219.6" y="357.35" textLength="48.4" lengthAdjust="spacing">12:00:04</text><text x="219.6" y="380.35" textLength="48.4" lengthAdjust="spacing">13:00:04</text><text x="219.6" y="403.35" textLength="48.4" lengthAdjust="spacing">14:00:04</text><text x="219.6" y="425.35" textLength="48.4" lengthAdjust="spacing">15:00:04</text><text x="219.6" y="448.35" textLength="48.4" lengthAdjust="spacing">16:00:04</text><text x="219.6" y="471.35" textLength="48.4" lengthAdjust="spacing">17:00:04</text><text x="219.6" y="494.35" textLength="48.4" lengthAdjust="spacing">18:00:04</text><text x="219.6" y="517.35" textLength="48.4" lengthAdjust="spacing">19:00:04</text><text x="219.6" y="540.35" textLength="48.4" lengthAdjust="spacing">20:00:04</text><text x="219.6" y="563.35" textLength="48.4" lengthAdjust="spacing">21:00:04</text><text x="219.6" y="586.35" textLength="48.4" lengthAdjust="spacing">22:00:04</text><text x="219.6" y="608.35" textLength="48.4" lengthAdjust="spacing">23:00:04</text><text x="219.6" y="631.35" textLength="48.4" lengthAdjust="spacing">00:00:04</text><text x="219.6" y="654.35" textLength="48.4" lengthAdjust="spacing">01:00:04</text><text x="219.6" y="677.35" textLength="48.4" lengthAdjust="spacing">02:00:04</text><text x="219.6" y="700.35" textLength="48.4" lengthAdjust="spacing">03:00:04</text><text x="219.6" y="723.35" textLength="48.4" lengthAdjust="spacing">04:00:04</text><text x="219.6" y="746.35" textLength="48.4" lengthAdjust="spacing">05:00:04</text><text x="219.6" y="769.35" textLength="48.4" lengthAdjust="spacing">06:00:04</text><text x="219.6" y="791.35" textLength="48.4" lengthAdjust="spacing">07:00:04</text><text x="219.6" y="814.35" textLength="48.4" lengthAdjust="spacing">08:00:04</text><text x="219.6" y="837.35" textLength="48.4" lengthAdjust="spacing">09:00:04</text><text x="219.6" y="860.35" textLength="48.4" lengthAdjust="spacing">10:00:04</text><text x="219.6" y="883.35" textLength="48.4" lengthAdjust="spacing">11:00:04</text><text x="219.6" y="906.35" textLength="48.4" lengthAdjust="spacing">12:00:04</text><text x="219.6" y="929.35" textLength="48.4" lengthAdjust="spacing">13:00:04</text><text x="219.6" y="952.35" textLength="48.4" lengthAdjust="spacing">14:00:04</text><text x="219.6" y="974.35" textLength="48.4" lengthAdjust="spacing">15:00:04</text><text x="219.6" y="997.35" textLength="48.4" lengthAdjust="spacing">16:00:04</text><text x="219.6" y="1020.35" textLength="48.4" lengthAdjust="spacing">17:00:04</text><text x="219.6" y="1043.35" textLength="48.4" lengthAdjust="spacing">18:00:04</text><text x="219.6" y="1066.35" textLength="48.4" lengthAdjust="spacing">19:00:04</text></g>
<g font-family="DejaVu Sans, Liberation Sans, sans-serif" font-size="11.11" text-anchor="middle" fill="#000"><text x="229.7" y="1098.2">0</text><text x="594.7" y="1098.2">15</text><text x="959.7" y="1098.2">30</text><text x="1324.7" y="1098.2">45</text><text x="1689.7" y="1098.2">60</text><text x="960" y="1113">time in minutes</text></g>
</svg>
</body></html>
